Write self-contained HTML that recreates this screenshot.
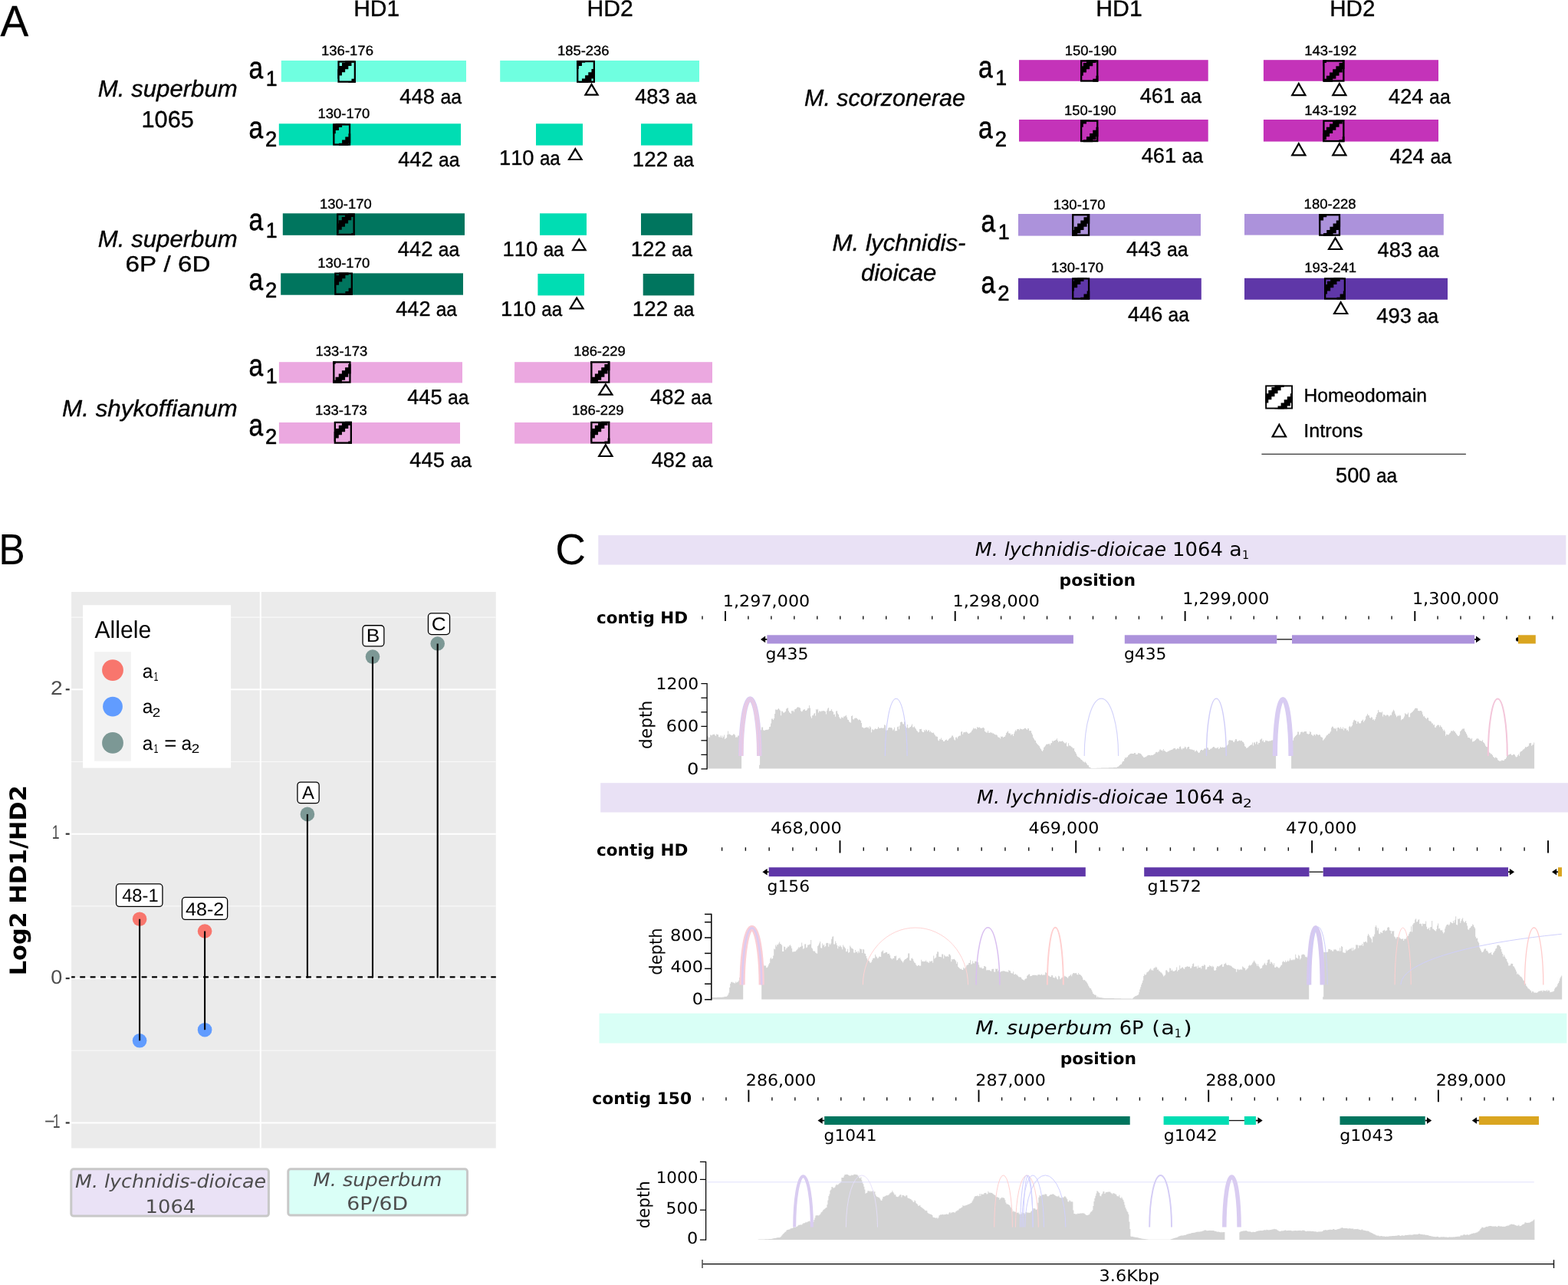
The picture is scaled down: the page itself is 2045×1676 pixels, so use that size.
<!DOCTYPE html>
<html lang="en"><head><meta charset="utf-8"><title>HD allele figure</title>
<style>
html,body{margin:0;padding:0;background:#fff;}
body{width:2045px;height:1676px;overflow:hidden;}
svg{display:block;}
text{white-space:pre;font-kerning:none;text-rendering:geometricPrecision;}
#panelA text{stroke:#000;stroke-width:0.35px;stroke-linejoin:round;}
#panelA text.al{stroke-width:0.6px;}
</style></head>
<body>
<svg width="2045" height="1676" viewBox="0 0 2045 1676">
<defs><clipPath id="c0"><rect x="440.40" y="79.30" width="23.60" height="28.50"/></clipPath><clipPath id="c1"><rect x="752.10" y="78.90" width="23.90" height="29.00"/></clipPath><clipPath id="c2"><rect x="434.20" y="161.30" width="23.00" height="28.40"/></clipPath><clipPath id="c3"><rect x="439.10" y="278.40" width="23.70" height="28.60"/></clipPath><clipPath id="c4"><rect x="436.20" y="355.50" width="23.80" height="29.30"/></clipPath><clipPath id="c5"><rect x="434.20" y="471.20" width="23.40" height="28.50"/></clipPath><clipPath id="c6"><rect x="770.20" y="471.20" width="25.20" height="28.50"/></clipPath><clipPath id="c7"><rect x="435.70" y="549.80" width="23.30" height="29.00"/></clipPath><clipPath id="c8"><rect x="770.20" y="549.80" width="25.20" height="28.80"/></clipPath><clipPath id="c9"><rect x="1409.00" y="78.30" width="23.40" height="28.40"/></clipPath><clipPath id="c10"><rect x="1725.30" y="78.30" width="28.20" height="28.40"/></clipPath><clipPath id="c11"><rect x="1409.00" y="156.50" width="23.40" height="28.70"/></clipPath><clipPath id="c12"><rect x="1725.30" y="156.50" width="28.20" height="28.70"/></clipPath><clipPath id="c13"><rect x="1398.10" y="279.10" width="23.10" height="28.70"/></clipPath><clipPath id="c14"><rect x="1720.10" y="279.10" width="28.00" height="28.70"/></clipPath><clipPath id="c15"><rect x="1398.10" y="362.30" width="23.10" height="28.40"/></clipPath><clipPath id="c16"><rect x="1727.00" y="362.30" width="28.00" height="28.40"/></clipPath><clipPath id="c17"><rect x="1650.20" y="502.40" width="35.80" height="31.10"/></clipPath><clipPath id="clp2"><rect x="1800" y="1190" width="236.8" height="110"/></clipPath></defs>
<g id="panelA">
<text transform="translate(0.39,46.50) scale(0.9708,1.0000)" font-family='"Liberation Sans", sans-serif' font-size="56.70" fill="#000" >A</text>
<text transform="translate(461.13,21.00) scale(1.0155,1.0000)" font-family='"Liberation Sans", sans-serif' font-size="29.60" fill="#000" >HD1</text>
<text transform="translate(765.52,21.00) scale(1.0199,1.0000)" font-family='"Liberation Sans", sans-serif' font-size="29.60" fill="#000" >HD2</text>
<text transform="translate(1429.22,21.00) scale(1.0227,1.0000)" font-family='"Liberation Sans", sans-serif' font-size="29.60" fill="#000" >HD1</text>
<text transform="translate(1734.28,21.00) scale(0.9982,1.0000)" font-family='"Liberation Sans", sans-serif' font-size="29.60" fill="#000" >HD2</text>
<rect x="366.80" y="79.00" width="241.20" height="27.80" fill="#6FFFE0" />
<rect x="652.20" y="79.00" width="259.80" height="27.80" fill="#6FFFE0" />
<g clip-path="url(#c0)"><path d="M454.31 73.46h12.51v4.22h-12.51zM450.14 77.63h12.51v4.22h-12.51zM445.97 81.80h12.51v4.22h-12.51zM441.80 85.97h12.51v4.22h-12.51zM437.63 90.14h12.51v4.22h-12.51zM470.99 90.14h4.17v4.22h-4.17zM433.46 94.31h12.51v4.22h-12.51zM466.82 94.31h8.34v4.22h-8.34zM433.46 98.48h8.34v4.22h-8.34zM462.65 98.48h12.51v4.22h-12.51zM433.46 102.65h4.17v4.22h-4.17zM458.48 102.65h12.51v4.22h-12.51zM454.31 106.82h12.51v4.22h-12.51zM450.14 110.99h12.51v4.22h-12.51zM445.97 115.16h12.51v4.22h-12.51z" fill="#000"/></g><rect x="441.55" y="80.45" width="21.30" height="26.20" fill="none" stroke="#000" stroke-width="2.3"/>
<g clip-path="url(#c1)"><path d="M758.94 69.16h12.51v4.22h-12.51zM754.77 73.33h12.51v4.22h-12.51zM750.60 77.50h12.51v4.22h-12.51zM746.43 81.67h12.51v4.22h-12.51zM779.79 81.67h4.17v4.22h-4.17zM742.26 85.84h12.51v4.22h-12.51zM775.62 85.84h8.34v4.22h-8.34zM742.26 90.01h8.34v4.22h-8.34zM771.45 90.01h12.51v4.22h-12.51zM742.26 94.18h4.17v4.22h-4.17zM767.28 94.18h12.51v4.22h-12.51zM763.11 98.35h12.51v4.22h-12.51zM758.94 102.52h12.51v4.22h-12.51zM754.77 106.69h12.51v4.22h-12.51zM750.60 110.86h12.51v4.22h-12.51z" fill="#000"/></g><rect x="753.25" y="80.05" width="21.60" height="26.70" fill="none" stroke="#000" stroke-width="2.3"/>
<text transform="translate(418.99,72.00) scale(1.0414,1.0000)" font-family='"Liberation Sans", sans-serif' font-size="17.80" fill="#000" >136-176</text>
<text transform="translate(726.89,72.00) scale(1.0366,1.0000)" font-family='"Liberation Sans", sans-serif' font-size="17.80" fill="#000" >185-236</text>
<text font-family='"Liberation Sans", sans-serif' fill="#000" ><tspan x="521.37" y="134.70" font-size="27.30" textLength="45.57" lengthAdjust="spacingAndGlyphs">448</tspan> <tspan x="574.39" y="134.70" font-size="25.60" textLength="27.61" lengthAdjust="spacingAndGlyphs">aa</tspan></text>
<text font-family='"Liberation Sans", sans-serif' fill="#000" ><tspan x="828.17" y="134.70" font-size="27.30" textLength="45.47" lengthAdjust="spacingAndGlyphs">483</tspan> <tspan x="881.05" y="134.70" font-size="25.60" textLength="27.55" lengthAdjust="spacingAndGlyphs">aa</tspan></text>
<path d="M771.50 107.80L781.50 124.80L761.50 124.80ZM771.50 112.14L777.65 122.60L765.35 122.60Z" fill="#000" fill-rule="evenodd" stroke="none"/>
<text font-family='"Liberation Sans", sans-serif' fill="#000" class="al"><tspan x="324.38" y="101.50" font-size="40.00" textLength="18.62" lengthAdjust="spacingAndGlyphs">a</tspan><tspan x="346.67" y="111.70" font-size="28.00" textLength="14.83" lengthAdjust="spacingAndGlyphs">1</tspan></text>
<rect x="363.80" y="161.30" width="237.20" height="28.30" fill="#00DDB3" />
<rect x="699.00" y="161.30" width="61.00" height="28.30" fill="#00DDB3" />
<rect x="836.00" y="161.30" width="67.00" height="28.30" fill="#00DDB3" />
<g clip-path="url(#c2)"><path d="M441.94 153.36h12.51v4.22h-12.51zM437.77 157.53h12.51v4.22h-12.51zM433.60 161.70h12.51v4.22h-12.51zM429.43 165.87h12.51v4.22h-12.51zM462.79 165.87h4.17v4.22h-4.17zM425.26 170.04h12.51v4.22h-12.51zM458.62 170.04h8.34v4.22h-8.34zM425.26 174.21h8.34v4.22h-8.34zM454.45 174.21h12.51v4.22h-12.51zM425.26 178.38h4.17v4.22h-4.17zM450.28 178.38h12.51v4.22h-12.51zM446.11 182.55h12.51v4.22h-12.51zM441.94 186.72h12.51v4.22h-12.51zM437.77 190.89h12.51v4.22h-12.51zM433.60 195.06h12.51v4.22h-12.51z" fill="#000"/></g><rect x="435.35" y="162.45" width="20.70" height="26.10" fill="none" stroke="#000" stroke-width="2.3"/>
<text transform="translate(414.59,154.10) scale(1.0368,1.0000)" font-family='"Liberation Sans", sans-serif' font-size="17.80" fill="#000" >130-170</text>
<text font-family='"Liberation Sans", sans-serif' fill="#000" ><tspan x="519.17" y="216.50" font-size="27.30" textLength="45.65" lengthAdjust="spacingAndGlyphs">442</tspan> <tspan x="572.05" y="216.50" font-size="25.60" textLength="27.55" lengthAdjust="spacingAndGlyphs">aa</tspan></text>
<text font-family='"Liberation Sans", sans-serif' fill="#000" ><tspan x="650.92" y="214.50" font-size="27.30" textLength="45.66" lengthAdjust="spacingAndGlyphs">110</tspan> <tspan x="703.88" y="214.50" font-size="25.60" textLength="26.82" lengthAdjust="spacingAndGlyphs">aa</tspan></text>
<text font-family='"Liberation Sans", sans-serif' fill="#000" ><tspan x="824.89" y="216.50" font-size="27.30" textLength="46.17" lengthAdjust="spacingAndGlyphs">122</tspan> <tspan x="878.08" y="216.50" font-size="25.60" textLength="26.92" lengthAdjust="spacingAndGlyphs">aa</tspan></text>
<path d="M750.30 192.10L760.50 209.10L740.10 209.10ZM750.30 196.38L756.61 206.90L743.99 206.90Z" fill="#000" fill-rule="evenodd" stroke="none"/>
<text font-family='"Liberation Sans", sans-serif' fill="#000" class="al"><tspan x="324.38" y="180.30" font-size="40.00" textLength="18.62" lengthAdjust="spacingAndGlyphs">a</tspan><tspan x="346.12" y="190.50" font-size="28.00" textLength="15.26" lengthAdjust="spacingAndGlyphs">2</tspan></text>
<rect x="368.80" y="278.30" width="237.20" height="28.50" fill="#00755E" />
<rect x="704.00" y="278.30" width="61.00" height="28.50" fill="#00DDB3" />
<rect x="836.00" y="278.30" width="67.00" height="28.50" fill="#00755E" />
<g clip-path="url(#c3)"><path d="M433.26 270.56h4.17v4.22h-4.17zM458.28 270.56h12.51v4.22h-12.51zM454.11 274.73h12.51v4.22h-12.51zM449.94 278.90h12.51v4.22h-12.51zM445.77 283.07h12.51v4.22h-12.51zM441.60 287.24h12.51v4.22h-12.51zM437.43 291.41h12.51v4.22h-12.51zM470.79 291.41h4.17v4.22h-4.17zM433.26 295.58h12.51v4.22h-12.51zM466.62 295.58h8.34v4.22h-8.34zM433.26 299.75h8.34v4.22h-8.34zM462.45 299.75h12.51v4.22h-12.51zM433.26 303.92h4.17v4.22h-4.17zM458.28 303.92h12.51v4.22h-12.51zM454.11 308.09h12.51v4.22h-12.51zM449.94 312.26h12.51v4.22h-12.51z" fill="#000"/></g><rect x="440.25" y="279.55" width="21.40" height="26.30" fill="none" stroke="#000" stroke-width="2.3"/>
<text transform="translate(416.99,272.10) scale(1.0368,1.0000)" font-family='"Liberation Sans", sans-serif' font-size="17.80" fill="#000" >130-170</text>
<text font-family='"Liberation Sans", sans-serif' fill="#000" ><tspan x="518.87" y="334.10" font-size="27.30" textLength="45.65" lengthAdjust="spacingAndGlyphs">442</tspan> <tspan x="571.75" y="334.10" font-size="25.60" textLength="27.55" lengthAdjust="spacingAndGlyphs">aa</tspan></text>
<text font-family='"Liberation Sans", sans-serif' fill="#000" ><tspan x="655.40" y="334.10" font-size="27.30" textLength="45.89" lengthAdjust="spacingAndGlyphs">110</tspan> <tspan x="708.64" y="334.10" font-size="25.60" textLength="26.96" lengthAdjust="spacingAndGlyphs">aa</tspan></text>
<text font-family='"Liberation Sans", sans-serif' fill="#000" ><tspan x="822.69" y="334.10" font-size="27.30" textLength="46.28" lengthAdjust="spacingAndGlyphs">122</tspan> <tspan x="876.01" y="334.10" font-size="25.60" textLength="26.99" lengthAdjust="spacingAndGlyphs">aa</tspan></text>
<path d="M755.30 310.00L765.50 327.30L745.10 327.30ZM755.30 314.33L761.65 325.10L748.95 325.10Z" fill="#000" fill-rule="evenodd" stroke="none"/>
<text font-family='"Liberation Sans", sans-serif' fill="#000" class="al"><tspan x="324.38" y="299.60" font-size="40.00" textLength="18.62" lengthAdjust="spacingAndGlyphs">a</tspan><tspan x="346.67" y="309.80" font-size="28.00" textLength="14.83" lengthAdjust="spacingAndGlyphs">1</tspan></text>
<rect x="366.20" y="356.40" width="237.80" height="28.30" fill="#00755E" />
<rect x="701.40" y="357.00" width="60.60" height="28.40" fill="#00DDB3" />
<rect x="838.70" y="357.00" width="66.60" height="28.40" fill="#00755E" />
<g clip-path="url(#c4)"><path d="M450.41 346.56h12.51v4.22h-12.51zM446.24 350.73h12.51v4.22h-12.51zM442.07 354.90h12.51v4.22h-12.51zM437.90 359.07h12.51v4.22h-12.51zM433.73 363.24h12.51v4.22h-12.51zM467.09 363.24h4.17v4.22h-4.17zM429.56 367.41h12.51v4.22h-12.51zM462.92 367.41h8.34v4.22h-8.34zM429.56 371.58h8.34v4.22h-8.34zM458.75 371.58h12.51v4.22h-12.51zM429.56 375.75h4.17v4.22h-4.17zM454.58 375.75h12.51v4.22h-12.51zM450.41 379.92h12.51v4.22h-12.51zM446.24 384.09h12.51v4.22h-12.51zM442.07 388.26h12.51v4.22h-12.51zM437.90 392.43h12.51v4.22h-12.51z" fill="#000"/></g><rect x="437.35" y="356.65" width="21.50" height="27.00" fill="none" stroke="#000" stroke-width="2.3"/>
<text transform="translate(414.29,348.60) scale(1.0415,1.0000)" font-family='"Liberation Sans", sans-serif' font-size="17.80" fill="#000" >130-170</text>
<text font-family='"Liberation Sans", sans-serif' fill="#000" ><tspan x="516.18" y="412.30" font-size="27.30" textLength="45.31" lengthAdjust="spacingAndGlyphs">442</tspan> <tspan x="568.66" y="412.30" font-size="25.60" textLength="27.34" lengthAdjust="spacingAndGlyphs">aa</tspan></text>
<text font-family='"Liberation Sans", sans-serif' fill="#000" ><tspan x="653.10" y="412.30" font-size="27.30" textLength="45.89" lengthAdjust="spacingAndGlyphs">110</tspan> <tspan x="706.34" y="412.30" font-size="25.60" textLength="26.96" lengthAdjust="spacingAndGlyphs">aa</tspan></text>
<text font-family='"Liberation Sans", sans-serif' fill="#000" ><tspan x="824.88" y="412.30" font-size="27.30" textLength="46.34" lengthAdjust="spacingAndGlyphs">122</tspan> <tspan x="878.27" y="412.30" font-size="25.60" textLength="27.03" lengthAdjust="spacingAndGlyphs">aa</tspan></text>
<path d="M752.15 386.40L762.50 403.40L741.80 403.40ZM752.15 390.63L758.58 401.20L745.72 401.20Z" fill="#000" fill-rule="evenodd" stroke="none"/>
<text font-family='"Liberation Sans", sans-serif' fill="#000" class="al"><tspan x="324.38" y="377.70" font-size="40.00" textLength="18.62" lengthAdjust="spacingAndGlyphs">a</tspan><tspan x="346.12" y="387.90" font-size="28.00" textLength="15.26" lengthAdjust="spacingAndGlyphs">2</tspan></text>
<rect x="363.90" y="472.20" width="239.10" height="27.20" fill="#EBA8E0" />
<rect x="671.10" y="472.20" width="257.90" height="27.20" fill="#EBA8E0" />
<g clip-path="url(#c5)"><path d="M433.40 462.46h12.51v4.22h-12.51zM429.23 466.63h12.51v4.22h-12.51zM462.59 466.63h4.17v4.22h-4.17zM425.06 470.80h12.51v4.22h-12.51zM458.42 470.80h8.34v4.22h-8.34zM425.06 474.97h8.34v4.22h-8.34zM454.25 474.97h12.51v4.22h-12.51zM425.06 479.14h4.17v4.22h-4.17zM450.08 479.14h12.51v4.22h-12.51zM445.91 483.31h12.51v4.22h-12.51zM441.74 487.48h12.51v4.22h-12.51zM437.57 491.65h12.51v4.22h-12.51zM433.40 495.82h12.51v4.22h-12.51zM429.23 499.99h12.51v4.22h-12.51zM462.59 499.99h4.17v4.22h-4.17zM425.06 504.16h12.51v4.22h-12.51zM458.42 504.16h8.34v4.22h-8.34z" fill="#000"/></g><rect x="435.35" y="472.35" width="21.10" height="26.20" fill="none" stroke="#000" stroke-width="2.3"/>
<g clip-path="url(#c6)"><path d="M767.53 462.46h12.51v4.22h-12.51zM800.89 462.46h8.34v4.22h-8.34zM763.36 466.63h12.51v4.22h-12.51zM796.72 466.63h12.51v4.22h-12.51zM763.36 470.80h8.34v4.22h-8.34zM792.55 470.80h12.51v4.22h-12.51zM763.36 474.97h4.17v4.22h-4.17zM788.38 474.97h12.51v4.22h-12.51zM784.21 479.14h12.51v4.22h-12.51zM780.04 483.31h12.51v4.22h-12.51zM775.87 487.48h12.51v4.22h-12.51zM771.70 491.65h12.51v4.22h-12.51zM805.06 491.65h4.17v4.22h-4.17zM767.53 495.82h12.51v4.22h-12.51zM800.89 495.82h8.34v4.22h-8.34zM763.36 499.99h12.51v4.22h-12.51zM796.72 499.99h12.51v4.22h-12.51zM763.36 504.16h8.34v4.22h-8.34zM792.55 504.16h12.51v4.22h-12.51z" fill="#000"/></g><rect x="771.35" y="472.35" width="22.90" height="26.20" fill="none" stroke="#000" stroke-width="2.3"/>
<text transform="translate(411.59,464.00) scale(1.0382,1.0000)" font-family='"Liberation Sans", sans-serif' font-size="17.80" fill="#000" >133-173</text>
<text transform="translate(748.20,464.00) scale(1.0329,1.0000)" font-family='"Liberation Sans", sans-serif' font-size="17.80" fill="#000" >186-229</text>
<text font-family='"Liberation Sans", sans-serif' fill="#000" ><tspan x="531.18" y="526.70" font-size="27.30" textLength="45.42" lengthAdjust="spacingAndGlyphs">445</tspan> <tspan x="584.05" y="526.70" font-size="25.60" textLength="27.55" lengthAdjust="spacingAndGlyphs">aa</tspan></text>
<text font-family='"Liberation Sans", sans-serif' fill="#000" ><tspan x="848.07" y="526.70" font-size="27.30" textLength="45.65" lengthAdjust="spacingAndGlyphs">482</tspan> <tspan x="900.95" y="526.70" font-size="25.60" textLength="27.55" lengthAdjust="spacingAndGlyphs">aa</tspan></text>
<path d="M789.85 499.30L800.40 515.80L779.30 515.80ZM789.85 503.38L796.38 513.60L783.32 513.60Z" fill="#000" fill-rule="evenodd" stroke="none"/>
<text font-family='"Liberation Sans", sans-serif' fill="#000" class="al"><tspan x="324.38" y="489.50" font-size="40.00" textLength="18.62" lengthAdjust="spacingAndGlyphs">a</tspan><tspan x="346.67" y="499.70" font-size="28.00" textLength="14.83" lengthAdjust="spacingAndGlyphs">1</tspan></text>
<rect x="363.90" y="551.00" width="236.10" height="27.60" fill="#EBA8E0" />
<rect x="671.10" y="551.00" width="257.90" height="27.60" fill="#EBA8E0" />
<g clip-path="url(#c7)"><path d="M429.26 542.26h4.17v4.22h-4.17zM454.28 542.26h12.51v4.22h-12.51zM450.11 546.43h12.51v4.22h-12.51zM445.94 550.60h12.51v4.22h-12.51zM441.77 554.77h12.51v4.22h-12.51zM437.60 558.94h12.51v4.22h-12.51zM433.43 563.11h12.51v4.22h-12.51zM466.79 563.11h4.17v4.22h-4.17zM429.26 567.28h12.51v4.22h-12.51zM462.62 567.28h8.34v4.22h-8.34zM429.26 571.45h8.34v4.22h-8.34zM458.45 571.45h12.51v4.22h-12.51zM429.26 575.62h4.17v4.22h-4.17zM454.28 575.62h12.51v4.22h-12.51zM450.11 579.79h12.51v4.22h-12.51zM445.94 583.96h12.51v4.22h-12.51z" fill="#000"/></g><rect x="436.85" y="550.95" width="21.00" height="26.70" fill="none" stroke="#000" stroke-width="2.3"/>
<g clip-path="url(#c8)"><path d="M763.36 542.26h4.17v4.22h-4.17zM788.38 542.26h12.51v4.22h-12.51zM784.21 546.43h12.51v4.22h-12.51zM780.04 550.60h12.51v4.22h-12.51zM775.87 554.77h12.51v4.22h-12.51zM771.70 558.94h12.51v4.22h-12.51zM805.06 558.94h4.17v4.22h-4.17zM767.53 563.11h12.51v4.22h-12.51zM800.89 563.11h8.34v4.22h-8.34zM763.36 567.28h12.51v4.22h-12.51zM796.72 567.28h12.51v4.22h-12.51zM763.36 571.45h8.34v4.22h-8.34zM792.55 571.45h12.51v4.22h-12.51zM763.36 575.62h4.17v4.22h-4.17zM788.38 575.62h12.51v4.22h-12.51zM784.21 579.79h12.51v4.22h-12.51zM780.04 583.96h12.51v4.22h-12.51z" fill="#000"/></g><rect x="771.35" y="550.95" width="22.90" height="26.50" fill="none" stroke="#000" stroke-width="2.3"/>
<text transform="translate(410.99,540.80) scale(1.0382,1.0000)" font-family='"Liberation Sans", sans-serif' font-size="17.80" fill="#000" >133-173</text>
<text transform="translate(745.89,540.80) scale(1.0376,1.0000)" font-family='"Liberation Sans", sans-serif' font-size="17.80" fill="#000" >186-229</text>
<text font-family='"Liberation Sans", sans-serif' fill="#000" ><tspan x="534.37" y="608.50" font-size="27.30" textLength="45.53" lengthAdjust="spacingAndGlyphs">445</tspan> <tspan x="587.39" y="608.50" font-size="25.60" textLength="27.61" lengthAdjust="spacingAndGlyphs">aa</tspan></text>
<text font-family='"Liberation Sans", sans-serif' fill="#000" ><tspan x="849.78" y="608.50" font-size="27.30" textLength="45.25" lengthAdjust="spacingAndGlyphs">482</tspan> <tspan x="902.20" y="608.50" font-size="25.60" textLength="27.30" lengthAdjust="spacingAndGlyphs">aa</tspan></text>
<path d="M789.85 578.10L800.40 596.10L779.30 596.10ZM789.85 582.45L796.56 593.90L783.14 593.90Z" fill="#000" fill-rule="evenodd" stroke="none"/>
<text font-family='"Liberation Sans", sans-serif' fill="#000" class="al"><tspan x="324.38" y="568.30" font-size="40.00" textLength="18.62" lengthAdjust="spacingAndGlyphs">a</tspan><tspan x="346.12" y="578.50" font-size="28.00" textLength="15.26" lengthAdjust="spacingAndGlyphs">2</tspan></text>
<rect x="1329.00" y="78.20" width="246.70" height="27.60" fill="#C433B9" />
<rect x="1647.90" y="78.20" width="228.10" height="27.60" fill="#C433B9" />
<g clip-path="url(#c9)"><path d="M1400.26 69.46h4.17v4.22h-4.17zM1425.28 69.46h12.51v4.22h-12.51zM1421.11 73.63h12.51v4.22h-12.51zM1416.94 77.80h12.51v4.22h-12.51zM1412.77 81.97h12.51v4.22h-12.51zM1408.60 86.14h12.51v4.22h-12.51zM1404.43 90.31h12.51v4.22h-12.51zM1437.79 90.31h4.17v4.22h-4.17zM1400.26 94.48h12.51v4.22h-12.51zM1433.62 94.48h8.34v4.22h-8.34zM1400.26 98.65h8.34v4.22h-8.34zM1429.45 98.65h12.51v4.22h-12.51zM1400.26 102.82h4.17v4.22h-4.17zM1425.28 102.82h12.51v4.22h-12.51zM1421.11 106.99h12.51v4.22h-12.51zM1416.94 111.16h12.51v4.22h-12.51z" fill="#000"/></g><rect x="1410.15" y="79.45" width="21.10" height="26.10" fill="none" stroke="#000" stroke-width="2.3"/>
<g clip-path="url(#c10)"><path d="M1725.70 69.46h12.51v4.22h-12.51zM1759.06 69.46h4.17v4.22h-4.17zM1721.53 73.63h12.51v4.22h-12.51zM1754.89 73.63h8.34v4.22h-8.34zM1717.36 77.80h12.51v4.22h-12.51zM1750.72 77.80h12.51v4.22h-12.51zM1717.36 81.97h8.34v4.22h-8.34zM1746.55 81.97h12.51v4.22h-12.51zM1717.36 86.14h4.17v4.22h-4.17zM1742.38 86.14h12.51v4.22h-12.51zM1738.21 90.31h12.51v4.22h-12.51zM1734.04 94.48h12.51v4.22h-12.51zM1729.87 98.65h12.51v4.22h-12.51zM1725.70 102.82h12.51v4.22h-12.51zM1759.06 102.82h4.17v4.22h-4.17zM1721.53 106.99h12.51v4.22h-12.51zM1754.89 106.99h8.34v4.22h-8.34zM1717.36 111.16h12.51v4.22h-12.51zM1750.72 111.16h12.51v4.22h-12.51z" fill="#000"/></g><rect x="1726.45" y="79.45" width="25.90" height="26.10" fill="none" stroke="#000" stroke-width="2.3"/>
<text transform="translate(1388.80,71.70) scale(1.0352,1.0000)" font-family='"Liberation Sans", sans-serif' font-size="17.80" fill="#000" >150-190</text>
<text transform="translate(1701.29,72.20) scale(1.0401,1.0000)" font-family='"Liberation Sans", sans-serif' font-size="17.80" fill="#000" >143-192</text>
<text font-family='"Liberation Sans", sans-serif' fill="#000" ><tspan x="1486.67" y="134.00" font-size="27.30" textLength="45.56" lengthAdjust="spacingAndGlyphs">461</tspan> <tspan x="1539.49" y="134.00" font-size="25.60" textLength="27.51" lengthAdjust="spacingAndGlyphs">aa</tspan></text>
<text font-family='"Liberation Sans", sans-serif' fill="#000" ><tspan x="1811.08" y="134.60" font-size="27.30" textLength="45.17" lengthAdjust="spacingAndGlyphs">424</tspan> <tspan x="1864.09" y="134.60" font-size="25.60" textLength="27.61" lengthAdjust="spacingAndGlyphs">aa</tspan></text>
<path d="M1693.80 106.70L1704.30 125.30L1683.30 125.30ZM1693.80 111.18L1700.53 123.10L1687.07 123.10Z" fill="#000" fill-rule="evenodd" stroke="none"/>
<path d="M1746.85 106.70L1757.30 125.30L1736.40 125.30ZM1746.85 111.19L1753.54 123.10L1740.16 123.10Z" fill="#000" fill-rule="evenodd" stroke="none"/>
<text font-family='"Liberation Sans", sans-serif' fill="#000" class="al"><tspan x="1275.98" y="100.50" font-size="40.00" textLength="18.62" lengthAdjust="spacingAndGlyphs">a</tspan><tspan x="1298.27" y="110.70" font-size="28.00" textLength="14.83" lengthAdjust="spacingAndGlyphs">1</tspan></text>
<rect x="1329.00" y="156.00" width="246.70" height="28.60" fill="#C433B9" />
<rect x="1647.90" y="156.00" width="228.10" height="28.60" fill="#C433B9" />
<g clip-path="url(#c11)"><path d="M1412.77 148.96h12.51v4.22h-12.51zM1408.60 153.13h12.51v4.22h-12.51zM1404.43 157.30h12.51v4.22h-12.51zM1437.79 157.30h4.17v4.22h-4.17zM1400.26 161.47h12.51v4.22h-12.51zM1433.62 161.47h8.34v4.22h-8.34zM1400.26 165.64h8.34v4.22h-8.34zM1429.45 165.64h12.51v4.22h-12.51zM1400.26 169.81h4.17v4.22h-4.17zM1425.28 169.81h12.51v4.22h-12.51zM1421.11 173.98h12.51v4.22h-12.51zM1416.94 178.15h12.51v4.22h-12.51zM1412.77 182.32h12.51v4.22h-12.51zM1408.60 186.49h12.51v4.22h-12.51zM1404.43 190.66h12.51v4.22h-12.51zM1437.79 190.66h4.17v4.22h-4.17z" fill="#000"/></g><rect x="1410.15" y="157.65" width="21.10" height="26.40" fill="none" stroke="#000" stroke-width="2.3"/>
<g clip-path="url(#c12)"><path d="M1717.36 148.96h8.34v4.22h-8.34zM1746.55 148.96h12.51v4.22h-12.51zM1717.36 153.13h4.17v4.22h-4.17zM1742.38 153.13h12.51v4.22h-12.51zM1738.21 157.30h12.51v4.22h-12.51zM1734.04 161.47h12.51v4.22h-12.51zM1729.87 165.64h12.51v4.22h-12.51zM1725.70 169.81h12.51v4.22h-12.51zM1759.06 169.81h4.17v4.22h-4.17zM1721.53 173.98h12.51v4.22h-12.51zM1754.89 173.98h8.34v4.22h-8.34zM1717.36 178.15h12.51v4.22h-12.51zM1750.72 178.15h12.51v4.22h-12.51zM1717.36 182.32h8.34v4.22h-8.34zM1746.55 182.32h12.51v4.22h-12.51zM1717.36 186.49h4.17v4.22h-4.17zM1742.38 186.49h12.51v4.22h-12.51zM1738.21 190.66h12.51v4.22h-12.51z" fill="#000"/></g><rect x="1726.45" y="157.65" width="25.90" height="26.40" fill="none" stroke="#000" stroke-width="2.3"/>
<text transform="translate(1388.10,150.10) scale(1.0352,1.0000)" font-family='"Liberation Sans", sans-serif' font-size="17.80" fill="#000" >150-190</text>
<text transform="translate(1701.29,150.40) scale(1.0401,1.0000)" font-family='"Liberation Sans", sans-serif' font-size="17.80" fill="#000" >143-192</text>
<text font-family='"Liberation Sans", sans-serif' fill="#000" ><tspan x="1488.67" y="211.80" font-size="27.30" textLength="45.56" lengthAdjust="spacingAndGlyphs">461</tspan> <tspan x="1541.49" y="211.80" font-size="25.60" textLength="27.51" lengthAdjust="spacingAndGlyphs">aa</tspan></text>
<text font-family='"Liberation Sans", sans-serif' fill="#000" ><tspan x="1812.38" y="212.60" font-size="27.30" textLength="45.17" lengthAdjust="spacingAndGlyphs">424</tspan> <tspan x="1865.39" y="212.60" font-size="25.60" textLength="27.61" lengthAdjust="spacingAndGlyphs">aa</tspan></text>
<path d="M1693.80 184.90L1704.30 203.50L1683.30 203.50ZM1693.80 189.38L1700.53 201.30L1687.07 201.30Z" fill="#000" fill-rule="evenodd" stroke="none"/>
<path d="M1746.85 184.90L1757.30 203.50L1736.40 203.50ZM1746.85 189.39L1753.54 201.30L1740.16 201.30Z" fill="#000" fill-rule="evenodd" stroke="none"/>
<text font-family='"Liberation Sans", sans-serif' fill="#000" class="al"><tspan x="1275.98" y="180.30" font-size="40.00" textLength="18.62" lengthAdjust="spacingAndGlyphs">a</tspan><tspan x="1297.72" y="190.50" font-size="28.00" textLength="15.26" lengthAdjust="spacingAndGlyphs">2</tspan></text>
<rect x="1328.00" y="279.00" width="238.00" height="28.60" fill="#AC92DB" />
<rect x="1623.00" y="279.00" width="259.80" height="27.60" fill="#AC92DB" />
<g clip-path="url(#c13)"><path d="M1392.63 270.76h12.51v4.22h-12.51zM1425.99 270.76h4.17v4.22h-4.17zM1388.46 274.93h12.51v4.22h-12.51zM1421.82 274.93h8.34v4.22h-8.34zM1388.46 279.10h8.34v4.22h-8.34zM1417.65 279.10h12.51v4.22h-12.51zM1388.46 283.27h4.17v4.22h-4.17zM1413.48 283.27h12.51v4.22h-12.51zM1409.31 287.44h12.51v4.22h-12.51zM1405.14 291.61h12.51v4.22h-12.51zM1400.97 295.78h12.51v4.22h-12.51zM1396.80 299.95h12.51v4.22h-12.51zM1392.63 304.12h12.51v4.22h-12.51zM1425.99 304.12h4.17v4.22h-4.17zM1388.46 308.29h12.51v4.22h-12.51zM1421.82 308.29h8.34v4.22h-8.34zM1388.46 312.46h8.34v4.22h-8.34zM1417.65 312.46h12.51v4.22h-12.51z" fill="#000"/></g><rect x="1399.25" y="280.25" width="20.80" height="26.40" fill="none" stroke="#000" stroke-width="2.3"/>
<g clip-path="url(#c14)"><path d="M1726.07 270.76h12.51v4.22h-12.51zM1721.90 274.93h12.51v4.22h-12.51zM1755.26 274.93h4.17v4.22h-4.17zM1717.73 279.10h12.51v4.22h-12.51zM1751.09 279.10h8.34v4.22h-8.34zM1713.56 283.27h12.51v4.22h-12.51zM1746.92 283.27h12.51v4.22h-12.51zM1713.56 287.44h8.34v4.22h-8.34zM1742.75 287.44h12.51v4.22h-12.51zM1713.56 291.61h4.17v4.22h-4.17zM1738.58 291.61h12.51v4.22h-12.51zM1734.41 295.78h12.51v4.22h-12.51zM1730.24 299.95h12.51v4.22h-12.51zM1726.07 304.12h12.51v4.22h-12.51zM1721.90 308.29h12.51v4.22h-12.51zM1755.26 308.29h4.17v4.22h-4.17zM1717.73 312.46h12.51v4.22h-12.51zM1751.09 312.46h8.34v4.22h-8.34z" fill="#000"/></g><rect x="1721.25" y="280.25" width="25.70" height="26.40" fill="none" stroke="#000" stroke-width="2.3"/>
<text transform="translate(1373.79,272.90) scale(1.0399,1.0000)" font-family='"Liberation Sans", sans-serif' font-size="17.80" fill="#000" >130-170</text>
<text transform="translate(1700.59,271.90) scale(1.0412,1.0000)" font-family='"Liberation Sans", sans-serif' font-size="17.80" fill="#000" >180-228</text>
<text font-family='"Liberation Sans", sans-serif' fill="#000" ><tspan x="1468.97" y="334.20" font-size="27.30" textLength="45.53" lengthAdjust="spacingAndGlyphs">443</tspan> <tspan x="1521.92" y="334.20" font-size="25.60" textLength="27.58" lengthAdjust="spacingAndGlyphs">aa</tspan></text>
<text font-family='"Liberation Sans", sans-serif' fill="#000" ><tspan x="1796.58" y="334.60" font-size="27.30" textLength="45.30" lengthAdjust="spacingAndGlyphs">483</tspan> <tspan x="1849.26" y="334.60" font-size="25.60" textLength="27.44" lengthAdjust="spacingAndGlyphs">aa</tspan></text>
<path d="M1741.55 308.30L1752.00 326.10L1731.10 326.10ZM1741.55 312.65L1748.16 323.90L1734.94 323.90Z" fill="#000" fill-rule="evenodd" stroke="none"/>
<text font-family='"Liberation Sans", sans-serif' fill="#000" class="al"><tspan x="1279.58" y="301.70" font-size="40.00" textLength="18.62" lengthAdjust="spacingAndGlyphs">a</tspan><tspan x="1301.87" y="311.90" font-size="28.00" textLength="14.83" lengthAdjust="spacingAndGlyphs">1</tspan></text>
<rect x="1328.00" y="362.80" width="238.80" height="28.00" fill="#5F37A8" />
<rect x="1623.00" y="362.80" width="265.00" height="28.00" fill="#5F37A8" />
<g clip-path="url(#c15)"><path d="M1409.31 354.36h12.51v4.22h-12.51zM1405.14 358.53h12.51v4.22h-12.51zM1400.97 362.70h12.51v4.22h-12.51zM1396.80 366.87h12.51v4.22h-12.51zM1392.63 371.04h12.51v4.22h-12.51zM1425.99 371.04h4.17v4.22h-4.17zM1388.46 375.21h12.51v4.22h-12.51zM1421.82 375.21h8.34v4.22h-8.34zM1388.46 379.38h8.34v4.22h-8.34zM1417.65 379.38h12.51v4.22h-12.51zM1388.46 383.55h4.17v4.22h-4.17zM1413.48 383.55h12.51v4.22h-12.51zM1409.31 387.72h12.51v4.22h-12.51zM1405.14 391.89h12.51v4.22h-12.51zM1400.97 396.06h12.51v4.22h-12.51z" fill="#000"/></g><rect x="1399.25" y="363.45" width="20.80" height="26.10" fill="none" stroke="#000" stroke-width="2.3"/>
<g clip-path="url(#c16)"><path d="M1718.46 354.36h4.17v4.22h-4.17zM1743.48 354.36h12.51v4.22h-12.51zM1739.31 358.53h12.51v4.22h-12.51zM1735.14 362.70h12.51v4.22h-12.51zM1730.97 366.87h12.51v4.22h-12.51zM1726.80 371.04h12.51v4.22h-12.51zM1760.16 371.04h4.17v4.22h-4.17zM1722.63 375.21h12.51v4.22h-12.51zM1755.99 375.21h8.34v4.22h-8.34zM1718.46 379.38h12.51v4.22h-12.51zM1751.82 379.38h12.51v4.22h-12.51zM1718.46 383.55h8.34v4.22h-8.34zM1747.65 383.55h12.51v4.22h-12.51zM1718.46 387.72h4.17v4.22h-4.17zM1743.48 387.72h12.51v4.22h-12.51zM1739.31 391.89h12.51v4.22h-12.51zM1735.14 396.06h12.51v4.22h-12.51z" fill="#000"/></g><rect x="1728.15" y="363.45" width="25.70" height="26.10" fill="none" stroke="#000" stroke-width="2.3"/>
<text transform="translate(1371.09,355.30) scale(1.0415,1.0000)" font-family='"Liberation Sans", sans-serif' font-size="17.80" fill="#000" >130-170</text>
<text transform="translate(1701.29,355.10) scale(1.0396,1.0000)" font-family='"Liberation Sans", sans-serif' font-size="17.80" fill="#000" >193-241</text>
<text font-family='"Liberation Sans", sans-serif' fill="#000" ><tspan x="1470.98" y="419.00" font-size="27.30" textLength="45.25" lengthAdjust="spacingAndGlyphs">446</tspan> <tspan x="1523.59" y="419.00" font-size="25.60" textLength="27.41" lengthAdjust="spacingAndGlyphs">aa</tspan></text>
<text font-family='"Liberation Sans", sans-serif' fill="#000" ><tspan x="1795.37" y="421.30" font-size="27.30" textLength="45.59" lengthAdjust="spacingAndGlyphs">493</tspan> <tspan x="1848.39" y="421.30" font-size="25.60" textLength="27.61" lengthAdjust="spacingAndGlyphs">aa</tspan></text>
<path d="M1748.65 392.10L1759.10 410.10L1738.20 410.10ZM1748.65 396.48L1755.28 407.90L1742.02 407.90Z" fill="#000" fill-rule="evenodd" stroke="none"/>
<text font-family='"Liberation Sans", sans-serif' fill="#000" class="al"><tspan x="1279.58" y="381.50" font-size="40.00" textLength="18.62" lengthAdjust="spacingAndGlyphs">a</tspan><tspan x="1301.32" y="391.70" font-size="28.00" textLength="15.26" lengthAdjust="spacingAndGlyphs">2</tspan></text>
<text transform="translate(127.84,126.30) scale(1.0220,1.0000)" font-family='"Liberation Sans", sans-serif' font-size="30.50" font-style="italic" fill="#000" >M. superbum</text>
<text transform="translate(184.46,166.10) scale(1.0119,1.0000)" font-family='"Liberation Sans", sans-serif' font-size="30.40" fill="#000" >1065</text>
<text transform="translate(127.84,322.10) scale(1.0220,1.0000)" font-family='"Liberation Sans", sans-serif' font-size="30.50" font-style="italic" fill="#000" >M. superbum</text>
<text transform="translate(163.61,353.50) scale(1.1614,1.0000)" font-family='"Liberation Sans", sans-serif' font-size="28.60" fill="#000" >6P / 6D</text>
<text transform="translate(81.03,542.80) scale(1.0301,1.0000)" font-family='"Liberation Sans", sans-serif' font-size="30.50" font-style="italic" fill="#000" >M. shykoffianum</text>
<text transform="translate(1049.06,138.00) scale(0.9984,1.0000)" font-family='"Liberation Sans", sans-serif' font-size="30.50" font-style="italic" fill="#000" >M. scorzonerae</text>
<text transform="translate(1085.54,327.00) scale(1.0265,1.0000)" font-family='"Liberation Sans", sans-serif' font-size="30.50" font-style="italic" fill="#000" >M. lychnidis-</text>
<text transform="translate(1122.95,366.20) scale(1.0181,1.0000)" font-family='"Liberation Sans", sans-serif' font-size="30.50" font-style="italic" fill="#000" >dioicae</text>
<g clip-path="url(#c17)"><rect x="1650.20" y="502.40" width="35.80" height="31.10" fill="#fff"/><path d="M1642.04 496.84h4.08v4.13h-4.08zM1666.52 496.84h12.24v4.13h-12.24zM1662.44 500.92h12.24v4.13h-12.24zM1658.36 505.00h12.24v4.13h-12.24zM1691.00 505.00h4.08v4.13h-4.08zM1654.28 509.08h12.24v4.13h-12.24zM1686.92 509.08h8.16v4.13h-8.16zM1650.20 513.16h12.24v4.13h-12.24zM1682.84 513.16h12.24v4.13h-12.24zM1646.12 517.24h12.24v4.13h-12.24zM1678.76 517.24h12.24v4.13h-12.24zM1642.04 521.32h12.24v4.13h-12.24zM1674.68 521.32h12.24v4.13h-12.24zM1642.04 525.40h8.16v4.13h-8.16zM1670.60 525.40h12.24v4.13h-12.24zM1642.04 529.48h4.08v4.13h-4.08zM1666.52 529.48h12.24v4.13h-12.24zM1662.44 533.56h12.24v4.13h-12.24zM1658.36 537.64h12.24v4.13h-12.24zM1691.00 537.64h4.08v4.13h-4.08zM1654.28 541.72h12.24v4.13h-12.24zM1686.92 541.72h8.16v4.13h-8.16z" fill="#000"/></g><rect x="1651.15" y="503.35" width="33.90" height="29.20" fill="none" stroke="#000" stroke-width="1.9"/>
<text transform="translate(1700.48,523.90) scale(1.0034,1.0000)" font-family='"Liberation Sans", sans-serif' font-size="24.60" fill="#000" >Homeodomain</text>
<path d="M1668.35 551.40L1678.90 570.60L1657.80 570.60ZM1668.35 555.97L1675.18 568.40L1661.52 568.40Z" fill="#000" fill-rule="evenodd" stroke="none"/>
<text transform="translate(1700.17,570.40) scale(1.0271,1.0000)" font-family='"Liberation Sans", sans-serif' font-size="24.60" fill="#000" >Introns</text>
<line x1="1645.40" y1="592.20" x2="1911.90" y2="592.20" stroke="#000" stroke-width="1.1" />
<text font-family='"Liberation Sans", sans-serif' fill="#000" ><tspan x="1742.11" y="628.80" font-size="27.30" textLength="45.36" lengthAdjust="spacingAndGlyphs">500</tspan> <tspan x="1794.93" y="628.80" font-size="25.60" textLength="27.27" lengthAdjust="spacingAndGlyphs">aa</tspan></text>
</g>
<g id="panelB">
<text transform="translate(-1.74,735.80) scale(0.9113,1.0000)" font-family='"Liberation Sans", sans-serif' font-size="56.70" fill="#000" >B</text>
<rect x="93.10" y="772.00" width="553.70" height="725.50" fill="#EBEBEB" />
<line x1="93.10" y1="805.10" x2="646.80" y2="805.10" stroke="#F9F9F9" stroke-width="1.1" />
<line x1="93.10" y1="993.50" x2="646.80" y2="993.50" stroke="#F9F9F9" stroke-width="1.1" />
<line x1="93.10" y1="1181.90" x2="646.80" y2="1181.90" stroke="#F9F9F9" stroke-width="1.1" />
<line x1="93.10" y1="1370.30" x2="646.80" y2="1370.30" stroke="#F9F9F9" stroke-width="1.1" />
<line x1="93.10" y1="899.30" x2="646.80" y2="899.30" stroke="#fff" stroke-width="1.9" />
<line x1="93.10" y1="1087.70" x2="646.80" y2="1087.70" stroke="#fff" stroke-width="1.9" />
<line x1="93.10" y1="1276.10" x2="646.80" y2="1276.10" stroke="#fff" stroke-width="1.9" />
<line x1="93.10" y1="1464.50" x2="646.80" y2="1464.50" stroke="#fff" stroke-width="1.9" />
<line x1="339.80" y1="772.00" x2="339.80" y2="1497.50" stroke="#fff" stroke-width="2.0" />
<line x1="85.70" y1="899.30" x2="90.70" y2="899.30" stroke="#333" stroke-width="2.2" />
<line x1="85.70" y1="1087.70" x2="90.70" y2="1087.70" stroke="#333" stroke-width="2.2" />
<line x1="85.70" y1="1276.10" x2="90.70" y2="1276.10" stroke="#333" stroke-width="2.2" />
<line x1="85.70" y1="1464.50" x2="90.70" y2="1464.50" stroke="#333" stroke-width="2.2" />
<text transform="translate(65.89,905.90) scale(1.1062,1.0000)" font-family='"Liberation Sans", sans-serif' font-size="25.40" fill="#4D4D4D" >2</text>
<text transform="translate(67.86,1094.30) scale(0.6940,1.0000)" font-family='"Liberation Sans", sans-serif' font-size="25.40" fill="#4D4D4D" >1</text>
<text transform="translate(66.35,1282.70) scale(1.0624,1.0000)" font-family='"Liberation Sans", sans-serif' font-size="25.40" fill="#4D4D4D" >0</text>
<text font-family='"Liberation Sans", sans-serif' fill="#4D4D4D" ><tspan x="58.04" y="1471.10" font-size="25.40" textLength="13.70" lengthAdjust="spacingAndGlyphs">−</tspan><tspan x="68.86" y="1471.10" font-size="25.40" textLength="9.80" lengthAdjust="spacingAndGlyphs">1</tspan></text>
<text transform="translate(34.00,1272.29) rotate(-90) scale(1.0285,1)" font-family='"DejaVu Sans", "Liberation Sans", sans-serif' font-size="29.50" font-weight="bold" fill="#000">Log2 HD1/HD2</text>
<line x1="93.10" y1="1274.40" x2="646.80" y2="1274.40" stroke="#000" stroke-width="2.3" stroke-dasharray="6.85 6.55" stroke-dashoffset="2.2"/>
<rect x="108.10" y="789.20" width="193.00" height="212.40" fill="#fff" />
<text transform="translate(123.54,831.50) scale(0.9553,1.0000)" font-family='"Liberation Sans", sans-serif' font-size="31.50" fill="#000" >Allele</text>
<rect x="123.10" y="850.20" width="47.70" height="142.50" fill="#F2F2F2" />
<circle cx="147" cy="874.1" r="13.9" fill="#F8766D"/>
<circle cx="147" cy="921.6" r="12.9" fill="#619CFF"/>
<circle cx="147" cy="968.9" r="13.9" fill="#7C9895"/>
<text font-family='"Liberation Sans", sans-serif' fill="#000" ><tspan x="185.76" y="883.60" font-size="25.00" textLength="13.64" lengthAdjust="spacingAndGlyphs">a</tspan><tspan x="200.39" y="887.80" font-size="16.50" textLength="5.93" lengthAdjust="spacingAndGlyphs">1</tspan></text>
<text font-family='"Liberation Sans", sans-serif' fill="#000" ><tspan x="185.76" y="930.40" font-size="25.00" textLength="13.64" lengthAdjust="spacingAndGlyphs">a</tspan><tspan x="198.85" y="934.60" font-size="16.50" textLength="10.50" lengthAdjust="spacingAndGlyphs">2</tspan></text>
<text font-family='"Liberation Sans", sans-serif' fill="#000" ><tspan x="185.76" y="977.70" font-size="25.00" textLength="13.64" lengthAdjust="spacingAndGlyphs">a</tspan><tspan x="200.39" y="981.90" font-size="16.50" textLength="5.93" lengthAdjust="spacingAndGlyphs">1</tspan> <tspan x="214.15" y="977.70" font-size="26.00" textLength="16.11" lengthAdjust="spacingAndGlyphs">=</tspan> <tspan x="236.56" y="977.70" font-size="25.00" textLength="13.64" lengthAdjust="spacingAndGlyphs">a</tspan><tspan x="249.65" y="981.90" font-size="16.50" textLength="10.50" lengthAdjust="spacingAndGlyphs">2</tspan></text>
<circle cx="182.1" cy="1198.7" r="9.3" fill="#F8766D"/><circle cx="182.1" cy="1357.3" r="9.3" fill="#619CFF"/>
<line x1="182.10" y1="1198.70" x2="182.10" y2="1357.30" stroke="#000" stroke-width="2.1" />
<circle cx="267.1" cy="1214.5" r="9.3" fill="#F8766D"/><circle cx="267.1" cy="1343.2" r="9.3" fill="#619CFF"/>
<line x1="267.10" y1="1214.50" x2="267.10" y2="1343.20" stroke="#000" stroke-width="2.1" />
<circle cx="400.9" cy="1061.9" r="9.3" fill="#7C9895"/>
<line x1="400.90" y1="1061.90" x2="400.90" y2="1275.50" stroke="#000" stroke-width="2.1" />
<circle cx="486" cy="856.6" r="9.3" fill="#7C9895"/>
<line x1="486.00" y1="856.60" x2="486.00" y2="1275.50" stroke="#000" stroke-width="2.1" />
<circle cx="570.7" cy="839.5" r="9.3" fill="#7C9895"/>
<line x1="570.70" y1="839.50" x2="570.70" y2="1275.50" stroke="#000" stroke-width="2.1" />
<rect x="151.55" y="1152.95" width="60.40" height="29.50" rx="4.2" fill="#fff" stroke="#000" stroke-width="1.3"/>
<text transform="translate(159.16,1175.90) scale(0.9931,1.0000)" font-family='"Liberation Sans", sans-serif' font-size="23.90" fill="#000" >48-1</text>
<rect x="237.45" y="1170.45" width="59.20" height="29.00" rx="4.2" fill="#fff" stroke="#000" stroke-width="1.3"/>
<text transform="translate(242.02,1193.80) scale(1.0502,1.0000)" font-family='"Liberation Sans", sans-serif' font-size="23.90" fill="#000" >48-2</text>
<rect x="387.95" y="1020.05" width="28.20" height="27.60" rx="4.2" fill="#fff" stroke="#000" stroke-width="1.3"/>
<text transform="translate(393.95,1042.00) scale(0.9970,1.0000)" font-family='"Liberation Sans", sans-serif' font-size="23.90" fill="#000" >A</text>
<rect x="473.05" y="815.75" width="27.80" height="27.20" rx="4.2" fill="#fff" stroke="#000" stroke-width="1.3"/>
<text transform="translate(477.64,837.40) scale(1.1006,1.0000)" font-family='"Liberation Sans", sans-serif' font-size="23.90" fill="#000" >B</text>
<rect x="558.45" y="799.95" width="28.10" height="27.60" rx="4.2" fill="#fff" stroke="#000" stroke-width="1.3"/>
<text transform="translate(562.87,822.10) scale(1.0967,1.0000)" font-family='"Liberation Sans", sans-serif' font-size="23.90" fill="#000" >C</text>
 <rect x="92.80" y="1524.80" width="257.60" height="61.30" rx="3.2" fill="#EAE2F6" stroke="#C8C8C8" stroke-width="3"/>
 <rect x="375.80" y="1524.80" width="233.70" height="60.30" rx="3.2" fill="#DAFFF7" stroke="#C8C8C8" stroke-width="3"/>
<text transform="translate(98.12,1549.20) scale(1.0546,1.0000)" font-family='"DejaVu Sans", "Liberation Sans", sans-serif' font-size="24.00" font-style="italic" fill="#4D4D4D" >M. lychnidis-dioicae</text>
<text transform="translate(189.56,1581.70) scale(1.0754,1.0000)" font-family='"DejaVu Sans", "Liberation Sans", sans-serif' font-size="24.00" fill="#4D4D4D" >1064</text>
<text transform="translate(408.61,1546.70) scale(1.0659,1.0000)" font-family='"DejaVu Sans", "Liberation Sans", sans-serif' font-size="24.00" font-style="italic" fill="#4D4D4D" >M. superbum</text>
<text transform="translate(452.23,1578.00) scale(1.1156,1.0000)" font-family='"DejaVu Sans", "Liberation Sans", sans-serif' font-size="24.00" fill="#4D4D4D" >6P/6D</text>
</g>
<g id="panelC">
<text transform="translate(724.30,735.60) scale(0.9719,1.0000)" font-family='"Liberation Sans", sans-serif' font-size="56.70" fill="#000" >C</text>
<rect x="780.30" y="698.10" width="1262.10" height="38.50" fill="#E9E1F5" />
<text font-family='"DejaVu Sans", "Liberation Sans", sans-serif' fill="#000" ><tspan x="1271.82" y="724.50" font-size="24.80" textLength="249.31" lengthAdjust="spacingAndGlyphs" font-style="italic">M. lychnidis-dioicae</tspan> <tspan x="1529.06" y="724.50" font-size="24.80" textLength="65.90" lengthAdjust="spacingAndGlyphs">1064</tspan> <tspan x="1603.39" y="724.50" font-size="24.80" textLength="16.45" lengthAdjust="spacingAndGlyphs">a</tspan><tspan x="1620.03" y="729.20" font-size="15.60" textLength="9.09" lengthAdjust="spacingAndGlyphs">1</tspan></text>
<text transform="translate(1381.57,763.90) scale(1.0210,1.0000)" font-family='"DejaVu Sans", "Liberation Sans", sans-serif' font-size="21.40" font-weight="bold" fill="#000" >position</text>
<text transform="translate(778.08,813.30) scale(1.0035,1.0000)" font-family='"DejaVu Sans", "Liberation Sans", sans-serif' font-size="21.40" font-weight="bold" fill="#000" >contig HD</text>
<path d="M916.00 803.40V807.80M975.94 803.40V807.80M1005.91 803.40V807.80M1035.88 803.40V807.80M1065.85 803.40V807.80M1095.82 803.40V807.80M1125.79 803.40V807.80M1155.76 803.40V807.80M1185.73 803.40V807.80M1215.70 803.40V807.80M1275.64 803.40V807.80M1305.61 803.40V807.80M1335.58 803.40V807.80M1365.55 803.40V807.80M1395.52 803.40V807.80M1425.49 803.40V807.80M1455.46 803.40V807.80M1485.43 803.40V807.80M1515.40 803.40V807.80M1575.34 803.40V807.80M1605.31 803.40V807.80M1635.28 803.40V807.80M1665.25 803.40V807.80M1695.22 803.40V807.80M1725.19 803.40V807.80M1755.16 803.40V807.80M1785.13 803.40V807.80M1815.10 803.40V807.80M1875.04 803.40V807.80M1905.01 803.40V807.80M1934.98 803.40V807.80M1964.95 803.40V807.80M1994.92 803.40V807.80M2024.89 803.40V807.80" stroke="#111" stroke-width="1.4" fill="none"/>
<path d="M946.00 797.10V809.90M1245.70 797.10V809.90M1545.60 797.10V809.90M1845.30 797.10V809.90" stroke="#000" stroke-width="1.9" fill="none"/>
<text transform="translate(942.75,790.80) scale(1.0725,1.0000)" font-family='"DejaVu Sans", "Liberation Sans", sans-serif' font-size="20.80" fill="#000" >1,297,000</text>
<text transform="translate(1242.45,790.80) scale(1.0725,1.0000)" font-family='"DejaVu Sans", "Liberation Sans", sans-serif' font-size="20.80" fill="#000" >1,298,000</text>
<text transform="translate(1542.16,788.00) scale(1.0347,1.0000)" font-family='"DejaVu Sans", "Liberation Sans", sans-serif' font-size="21.50" fill="#000" >1,299,000</text>
<text transform="translate(1841.96,788.00) scale(1.0347,1.0000)" font-family='"DejaVu Sans", "Liberation Sans", sans-serif' font-size="21.50" fill="#000" >1,300,000</text>
<rect x="1000.40" y="828.30" width="399.50" height="11.20" fill="#AC92DB" />
<line x1="995.00" y1="833.90" x2="1000.40" y2="833.90" stroke="#000" stroke-width="1.7" />
<path d="M992.00 833.90l6.2 -4.3v8.6z" fill="#000"/>
<line x1="1665.20" y1="833.90" x2="1685.00" y2="833.90" stroke="#111" stroke-width="1.3" />
<rect x="1466.80" y="828.30" width="198.40" height="11.20" fill="#AC92DB" />
<rect x="1685.00" y="828.30" width="238.10" height="11.20" fill="#AC92DB" />
<line x1="1923.10" y1="833.90" x2="1928.20" y2="833.90" stroke="#000" stroke-width="1.7" />
<path d="M1931.20 833.90l-6.2 -4.3v8.6z" fill="#000"/>
<circle cx="1979.6" cy="833.9" r="2.6" fill="#000"/>
<rect x="1980.00" y="828.30" width="22.80" height="11.20" fill="#DAA520" />
<text transform="translate(998.48,859.60) scale(1.0593,1.0000)" font-family='"DejaVu Sans", "Liberation Sans", sans-serif' font-size="20.80" fill="#000" >g435</text>
<text transform="translate(1466.00,859.60) scale(1.0493,1.0000)" font-family='"DejaVu Sans", "Liberation Sans", sans-serif' font-size="20.80" fill="#000" >g435</text>
<path d="M922.1 1002.6L922.1 960.4h1L923.1 960.3h1L924.1 961.9h1L925.1 961.6h1L926.1 958.5h1L927.1 958.7h1L928.1 959.3h1L929.1 958.0h1L930.1 958.0h1L931.1 957.5h1L932.1 959.1h1L933.1 959.9h1L934.1 957.4h1L935.1 958.0h1L936.1 958.3h1L937.1 961.3h1L938.1 961.4h1L939.1 959.6h1L940.1 962.0h1L941.1 959.5h1L942.1 962.4h1L943.1 960.7h1L944.1 958.5h1L945.1 963.9h1L946.1 963.1h1L947.1 962.2h1L948.1 958.2h1L949.1 953.6h1L950.1 957.8h1L951.1 957.3h1L952.1 958.2h1L953.1 958.7h1L954.1 959.3h1L955.1 958.7h1L956.1 957.6h1L957.1 957.5h1L958.1 958.7h1L959.1 961.7h1L960.1 961.3h1L961.1 961.5h1L962.1 959.6h1L963.1 959.6h1L964.1 959.2h1L965.1 960.9h1L966.1 960.7h1L967.1 1002.5h1L968.1 1002.5h1L969.1 1002.5h1L970.1 1002.5h1L971.1 1002.5h1L972.1 1002.5h1L973.1 1002.5h1L974.1 1002.5h1L975.1 1002.5h1L976.1 1002.5h1L977.1 1002.5h1L978.1 1002.5h1L979.1 1002.5h1L980.1 1002.5h1L981.1 1002.5h1L982.1 1002.5h1L983.1 1002.5h1L984.1 1002.5h1L985.1 1002.5h1L986.1 1002.5h1L987.1 1002.5h1L988.1 1002.5h1L989.1 1002.5h1L990.1 997.8h1L991.1 952.3h1L992.1 952.2h1L993.1 948.4h1L994.1 948.5h1L995.1 952.2h1L996.1 952.7h1L997.1 952.4h1L998.1 951.9h1L999.1 951.9h1L1000.1 951.4h1L1001.1 952.1h1L1002.1 950.8h1L1003.1 948.0h1L1004.1 947.8h1L1005.1 943.5h1L1006.1 937.5h1L1007.1 937.5h1L1008.1 938.9h1L1009.1 937.1h1L1010.1 931.1h1L1011.1 925.6h1L1012.1 925.5h1L1013.1 926.1h1L1014.1 924.8h1L1015.1 923.9h1L1016.1 925.5h1L1017.1 926.7h1L1018.1 933.3h1L1019.1 927.5h1L1020.1 927.7h1L1021.1 929.5h1L1022.1 929.4h1L1023.1 929.1h1L1024.1 927.7h1L1025.1 924.5h1L1026.1 923.7h1L1027.1 923.2h1L1028.1 927.2h1L1029.1 929.3h1L1030.1 929.8h1L1031.1 930.9h1L1032.1 927.1h1L1033.1 927.5h1L1034.1 926.7h1L1035.1 928.6h1L1036.1 925.3h1L1037.1 924.7h1L1038.1 924.2h1L1039.1 922.7h1L1040.1 922.3h1L1041.1 922.4h1L1042.1 922.7h1L1043.1 923.4h1L1044.1 927.2h1L1045.1 928.2h1L1046.1 927.4h1L1047.1 925.8h1L1048.1 925.6h1L1049.1 925.0h1L1050.1 927.1h1L1051.1 926.7h1L1052.1 925.8h1L1053.1 923.7h1L1054.1 923.7h1L1055.1 920.1h1L1056.1 923.4h1L1057.1 934.5h1L1058.1 936.8h1L1059.1 933.2h1L1060.1 932.9h1L1061.1 931.0h1L1062.1 930.1h1L1063.1 933.6h1L1064.1 924.9h1L1065.1 925.7h1L1066.1 924.8h1L1067.1 929.4h1L1068.1 927.6h1L1069.1 927.6h1L1070.1 928.2h1L1071.1 927.2h1L1072.1 927.6h1L1073.1 927.1h1L1074.1 927.2h1L1075.1 927.5h1L1076.1 928.2h1L1077.1 931.6h1L1078.1 926.8h1L1079.1 924.2h1L1080.1 922.9h1L1081.1 927.5h1L1082.1 927.3h1L1083.1 926.9h1L1084.1 925.0h1L1085.1 927.6h1L1086.1 928.6h1L1087.1 932.0h1L1088.1 931.5h1L1089.1 934.8h1L1090.1 927.6h1L1091.1 927.3h1L1092.1 930.6h1L1093.1 932.0h1L1094.1 935.3h1L1095.1 937.1h1L1096.1 937.5h1L1097.1 935.5h1L1098.1 935.7h1L1099.1 936.5h1L1100.1 934.6h1L1101.1 934.4h1L1102.1 933.7h1L1103.1 932.8h1L1104.1 935.6h1L1105.1 938.4h1L1106.1 939.0h1L1107.1 941.2h1L1108.1 942.2h1L1109.1 942.6h1L1110.1 933.9h1L1111.1 933.2h1L1112.1 938.0h1L1113.1 938.6h1L1114.1 936.7h1L1115.1 936.8h1L1116.1 936.3h1L1117.1 936.9h1L1118.1 937.9h1L1119.1 939.3h1L1120.1 938.6h1L1121.1 938.7h1L1122.1 939.9h1L1123.1 943.1h1L1124.1 948.5h1L1125.1 948.7h1L1126.1 949.7h1L1127.1 949.5h1L1128.1 949.0h1L1129.1 949.0h1L1130.1 948.3h1L1131.1 949.3h1L1132.1 948.5h1L1133.1 950.6h1L1134.1 947.3h1L1135.1 948.8h1L1136.1 955.2h1L1137.1 951.3h1L1138.1 951.6h1L1139.1 952.2h1L1140.1 951.3h1L1141.1 950.0h1L1142.1 950.9h1L1143.1 950.8h1L1144.1 950.4h1L1145.1 948.1h1L1146.1 949.5h1L1147.1 949.9h1L1148.1 949.5h1L1149.1 949.3h1L1150.1 949.7h1L1151.1 949.4h1L1152.1 949.5h1L1153.1 945.3h1L1154.1 946.1h1L1155.1 952.8h1L1156.1 952.5h1L1157.1 952.3h1L1158.1 949.4h1L1159.1 948.9h1L1160.1 948.7h1L1161.1 949.3h1L1162.1 948.9h1L1163.1 950.3h1L1164.1 952.5h1L1165.1 951.3h1L1166.1 948.8h1L1167.1 953.4h1L1168.1 952.9h1L1169.1 953.2h1L1170.1 948.2h1L1171.1 947.5h1L1172.1 951.2h1L1173.1 946.4h1L1174.1 941.9h1L1175.1 941.3h1L1176.1 942.0h1L1177.1 944.2h1L1178.1 944.6h1L1179.1 941.3h1L1180.1 947.1h1L1181.1 948.4h1L1182.1 949.2h1L1183.1 945.1h1L1184.1 949.6h1L1185.1 949.6h1L1186.1 948.4h1L1187.1 948.0h1L1188.1 946.5h1L1189.1 944.6h1L1190.1 948.5h1L1191.1 948.5h1L1192.1 947.6h1L1193.1 949.5h1L1194.1 950.7h1L1195.1 952.8h1L1196.1 953.8h1L1197.1 955.3h1L1198.1 954.8h1L1199.1 950.9h1L1200.1 950.9h1L1201.1 950.8h1L1202.1 953.8h1L1203.1 955.0h1L1204.1 954.9h1L1205.1 951.9h1L1206.1 953.5h1L1207.1 951.6h1L1208.1 952.2h1L1209.1 954.0h1L1210.1 952.5h1L1211.1 952.2h1L1212.1 954.7h1L1213.1 953.6h1L1214.1 955.2h1L1215.1 955.6h1L1216.1 956.1h1L1217.1 955.6h1L1218.1 957.4h1L1219.1 959.1h1L1220.1 960.6h1L1221.1 960.6h1L1222.1 961.1h1L1223.1 965.6h1L1224.1 966.3h1L1225.1 963.9h1L1226.1 964.5h1L1227.1 962.6h1L1228.1 965.0h1L1229.1 965.2h1L1230.1 966.9h1L1231.1 967.1h1L1232.1 965.5h1L1233.1 965.0h1L1234.1 964.6h1L1235.1 965.9h1L1236.1 965.4h1L1237.1 963.9h1L1238.1 962.8h1L1239.1 962.6h1L1240.1 961.6h1L1241.1 959.6h1L1242.1 959.6h1L1243.1 961.6h1L1244.1 964.4h1L1245.1 965.4h1L1246.1 961.8h1L1247.1 961.4h1L1248.1 963.2h1L1249.1 961.0h1L1250.1 960.0h1L1251.1 959.6h1L1252.1 959.4h1L1253.1 954.6h1L1254.1 953.9h1L1255.1 957.7h1L1256.1 955.4h1L1257.1 954.8h1L1258.1 955.2h1L1259.1 954.5h1L1260.1 954.4h1L1261.1 955.5h1L1262.1 956.6h1L1263.1 957.0h1L1264.1 956.2h1L1265.1 955.6h1L1266.1 954.8h1L1267.1 953.0h1L1268.1 951.6h1L1269.1 949.5h1L1270.1 950.5h1L1271.1 949.9h1L1272.1 950.2h1L1273.1 951.3h1L1274.1 948.1h1L1275.1 949.0h1L1276.1 948.7h1L1277.1 948.4h1L1278.1 949.7h1L1279.1 949.4h1L1280.1 950.1h1L1281.1 949.1h1L1282.1 948.7h1L1283.1 949.9h1L1284.1 954.1h1L1285.1 954.7h1L1286.1 955.6h1L1287.1 955.4h1L1288.1 953.1h1L1289.1 955.8h1L1290.1 955.9h1L1291.1 955.1h1L1292.1 955.7h1L1293.1 955.6h1L1294.1 956.4h1L1295.1 956.6h1L1296.1 957.2h1L1297.1 958.1h1L1298.1 958.5h1L1299.1 958.3h1L1300.1 959.3h1L1301.1 961.3h1L1302.1 961.7h1L1303.1 962.1h1L1304.1 963.5h1L1305.1 960.5h1L1306.1 961.0h1L1307.1 960.6h1L1308.1 961.9h1L1309.1 961.1h1L1310.1 960.7h1L1311.1 958.8h1L1312.1 955.9h1L1313.1 954.8h1L1314.1 953.6h1L1315.1 956.2h1L1316.1 956.6h1L1317.1 956.8h1L1318.1 959.0h1L1319.1 957.4h1L1320.1 957.7h1L1321.1 959.9h1L1322.1 956.8h1L1323.1 954.3h1L1324.1 952.3h1L1325.1 953.5h1L1326.1 951.3h1L1327.1 951.1h1L1328.1 951.1h1L1329.1 952.2h1L1330.1 950.3h1L1331.1 950.9h1L1332.1 951.0h1L1333.1 951.6h1L1334.1 951.0h1L1335.1 950.6h1L1336.1 949.7h1L1337.1 949.8h1L1338.1 951.1h1L1339.1 952.0h1L1340.1 950.1h1L1341.1 950.2h1L1342.1 953.3h1L1343.1 953.0h1L1344.1 953.2h1L1345.1 956.2h1L1346.1 958.3h1L1347.1 961.9h1L1348.1 963.7h1L1349.1 965.6h1L1350.1 965.9h1L1351.1 968.7h1L1352.1 970.2h1L1353.1 971.2h1L1354.1 972.2h1L1355.1 973.3h1L1356.1 975.6h1L1357.1 977.1h1L1358.1 978.8h1L1359.1 979.9h1L1360.1 978.2h1L1361.1 975.1h1L1362.1 973.7h1L1363.1 972.5h1L1364.1 970.9h1L1365.1 970.5h1L1366.1 970.7h1L1367.1 970.3h1L1368.1 970.1h1L1369.1 971.7h1L1370.1 969.5h1L1371.1 969.0h1L1372.1 966.1h1L1373.1 967.3h1L1374.1 966.1h1L1375.1 966.0h1L1376.1 965.2h1L1377.1 964.8h1L1378.1 963.2h1L1379.1 966.0h1L1380.1 967.9h1L1381.1 966.5h1L1382.1 967.0h1L1383.1 967.0h1L1384.1 967.1h1L1385.1 966.2h1L1386.1 967.3h1L1387.1 968.3h1L1388.1 969.3h1L1389.1 969.4h1L1390.1 968.2h1L1391.1 973.3h1L1392.1 973.5h1L1393.1 969.2h1L1394.1 972.5h1L1395.1 972.6h1L1396.1 973.3h1L1397.1 974.2h1L1398.1 974.7h1L1399.1 976.2h1L1400.1 975.7h1L1401.1 979.5h1L1402.1 980.9h1L1403.1 983.1h1L1404.1 985.5h1L1405.1 986.9h1L1406.1 987.5h1L1407.1 988.1h1L1408.1 989.0h1L1409.1 990.3h1L1410.1 990.9h1L1411.1 991.7h1L1412.1 993.2h1L1413.1 993.6h1L1414.1 994.4h1L1415.1 993.5h1L1416.1 994.9h1L1417.1 996.4h1L1418.1 998.0h1L1419.1 998.3h1L1420.1 1000.5h1L1421.1 1001.0h1L1422.1 1001.5h1L1423.1 1002.1h1L1424.1 1002.0h1L1425.1 1002.0h1L1426.1 1002.0h1L1427.1 1001.9h1L1428.1 1001.9h1L1429.1 1001.9h1L1430.1 1001.8h1L1431.1 1001.8h1L1432.1 1001.8h1L1433.1 1001.7h1L1434.1 1001.7h1L1435.1 1001.7h1L1436.1 1001.6h1L1437.1 1001.6h1L1438.1 1001.6h1L1439.1 1001.5h1L1440.1 1001.5h1L1441.1 1001.5h1L1442.1 1001.4h1L1443.1 1001.4h1L1444.1 1001.4h1L1445.1 1001.4h1L1446.1 1001.3h1L1447.1 1001.3h1L1448.1 1001.3h1L1449.1 1001.2h1L1450.1 1001.2h1L1451.1 1001.2h1L1452.1 1001.1h1L1453.1 1001.1h1L1454.1 1001.1h1L1455.1 1001.1h1L1456.1 1000.9h1L1457.1 1000.1h1L1458.1 999.7h1L1459.1 998.7h1L1460.1 998.1h1L1461.1 996.9h1L1462.1 996.7h1L1463.1 994.6h1L1464.1 992.9h1L1465.1 992.7h1L1466.1 990.1h1L1467.1 988.1h1L1468.1 988.6h1L1469.1 987.6h1L1470.1 987.2h1L1471.1 985.3h1L1472.1 984.5h1L1473.1 983.5h1L1474.1 983.0h1L1475.1 982.8h1L1476.1 983.0h1L1477.1 982.9h1L1478.1 982.9h1L1479.1 982.1h1L1480.1 982.1h1L1481.1 984.1h1L1482.1 984.1h1L1483.1 983.7h1L1484.1 981.9h1L1485.1 982.4h1L1486.1 982.5h1L1487.1 982.9h1L1488.1 983.9h1L1489.1 985.6h1L1490.1 986.5h1L1491.1 987.7h1L1492.1 988.0h1L1493.1 987.3h1L1494.1 987.2h1L1495.1 986.3h1L1496.1 985.5h1L1497.1 984.7h1L1498.1 985.0h1L1499.1 984.7h1L1500.1 985.5h1L1501.1 984.8h1L1502.1 984.9h1L1503.1 984.7h1L1504.1 984.2h1L1505.1 983.4h1L1506.1 982.8h1L1507.1 981.1h1L1508.1 980.7h1L1509.1 981.5h1L1510.1 980.6h1L1511.1 980.2h1L1512.1 977.8h1L1513.1 977.4h1L1514.1 979.0h1L1515.1 978.3h1L1516.1 979.4h1L1517.1 977.1h1L1518.1 978.9h1L1519.1 980.0h1L1520.1 980.4h1L1521.1 980.9h1L1522.1 980.6h1L1523.1 979.7h1L1524.1 979.5h1L1525.1 978.8h1L1526.1 978.5h1L1527.1 977.9h1L1528.1 977.7h1L1529.1 977.2h1L1530.1 976.2h1L1531.1 975.9h1L1532.1 975.8h1L1533.1 977.4h1L1534.1 977.2h1L1535.1 976.0h1L1536.1 976.4h1L1537.1 976.5h1L1538.1 974.0h1L1539.1 973.4h1L1540.1 976.2h1L1541.1 977.4h1L1542.1 975.9h1L1543.1 976.3h1L1544.1 975.6h1L1545.1 973.8h1L1546.1 974.8h1L1547.1 976.9h1L1548.1 975.1h1L1549.1 974.0h1L1550.1 973.9h1L1551.1 976.9h1L1552.1 977.3h1L1553.1 977.4h1L1554.1 977.5h1L1555.1 977.9h1L1556.1 978.4h1L1557.1 978.2h1L1558.1 980.3h1L1559.1 979.6h1L1560.1 978.5h1L1561.1 979.8h1L1562.1 981.3h1L1563.1 982.0h1L1564.1 981.2h1L1565.1 979.1h1L1566.1 978.1h1L1567.1 977.9h1L1568.1 978.7h1L1569.1 977.9h1L1570.1 976.8h1L1571.1 976.1h1L1572.1 976.7h1L1573.1 976.8h1L1574.1 975.1h1L1575.1 975.5h1L1576.1 977.7h1L1577.1 977.9h1L1578.1 976.8h1L1579.1 976.4h1L1580.1 976.0h1L1581.1 974.7h1L1582.1 974.1h1L1583.1 974.2h1L1584.1 975.5h1L1585.1 975.7h1L1586.1 975.8h1L1587.1 975.4h1L1588.1 974.4h1L1589.1 977.1h1L1590.1 975.9h1L1591.1 973.9h1L1592.1 975.0h1L1593.1 974.9h1L1594.1 974.6h1L1595.1 975.1h1L1596.1 975.1h1L1597.1 974.4h1L1598.1 974.2h1L1599.1 972.7h1L1600.1 972.2h1L1601.1 970.7h1L1602.1 966.3h1L1603.1 964.9h1L1604.1 965.5h1L1605.1 965.4h1L1606.1 965.7h1L1607.1 965.8h1L1608.1 967.6h1L1609.1 968.0h1L1610.1 966.1h1L1611.1 964.1h1L1612.1 964.2h1L1613.1 966.6h1L1614.1 966.9h1L1615.1 966.1h1L1616.1 965.6h1L1617.1 966.4h1L1618.1 965.7h1L1619.1 966.2h1L1620.1 967.6h1L1621.1 968.0h1L1622.1 969.7h1L1623.1 973.2h1L1624.1 974.0h1L1625.1 975.7h1L1626.1 975.4h1L1627.1 974.9h1L1628.1 973.7h1L1629.1 973.0h1L1630.1 972.0h1L1631.1 971.5h1L1632.1 971.3h1L1633.1 968.5h1L1634.1 972.4h1L1635.1 968.5h1L1636.1 968.2h1L1637.1 970.5h1L1638.1 967.5h1L1639.1 967.4h1L1640.1 971.0h1L1641.1 969.0h1L1642.1 968.9h1L1643.1 964.8h1L1644.1 964.3h1L1645.1 963.3h1L1646.1 966.8h1L1647.1 965.5h1L1648.1 967.9h1L1649.1 967.9h1L1650.1 965.7h1L1651.1 965.8h1L1652.1 966.6h1L1653.1 966.2h1L1654.1 967.0h1L1655.1 966.3h1L1656.1 966.5h1L1657.1 965.9h1L1658.1 965.6h1L1659.1 965.4h1L1660.1 965.2h1L1661.1 965.6h1L1662.1 962.2h1L1663.1 963.8h1L1664.1 1002.5h1L1665.1 1002.5h1L1666.1 1002.5h1L1667.1 1002.5h1L1668.1 1002.5h1L1669.1 1002.5h1L1670.1 1002.5h1L1671.1 1002.5h1L1672.1 1002.5h1L1673.1 1002.5h1L1674.1 1002.5h1L1675.1 1002.5h1L1676.1 1002.5h1L1677.1 1002.5h1L1678.1 1002.5h1L1679.1 1002.5h1L1680.1 1002.5h1L1681.1 1002.5h1L1682.1 1002.5h1L1683.1 1002.5h1L1684.1 966.1h1L1685.1 966.0h1L1686.1 965.7h1L1687.1 962.6h1L1688.1 961.3h1L1689.1 959.9h1L1690.1 959.1h1L1691.1 958.1h1L1692.1 954.4h1L1693.1 954.6h1L1694.1 958.6h1L1695.1 957.5h1L1696.1 955.0h1L1697.1 954.4h1L1698.1 954.6h1L1699.1 955.4h1L1700.1 954.6h1L1701.1 954.1h1L1702.1 954.1h1L1703.1 954.1h1L1704.1 956.8h1L1705.1 957.2h1L1706.1 957.7h1L1707.1 957.1h1L1708.1 954.0h1L1709.1 954.9h1L1710.1 958.2h1L1711.1 958.8h1L1712.1 960.1h1L1713.1 958.2h1L1714.1 957.9h1L1715.1 959.4h1L1716.1 957.4h1L1717.1 957.8h1L1718.1 958.3h1L1719.1 958.9h1L1720.1 958.0h1L1721.1 958.4h1L1722.1 960.7h1L1723.1 961.6h1L1724.1 962.0h1L1725.1 965.8h1L1726.1 964.4h1L1727.1 963.4h1L1728.1 962.0h1L1729.1 960.3h1L1730.1 958.7h1L1731.1 958.6h1L1732.1 956.8h1L1733.1 956.9h1L1734.1 955.5h1L1735.1 954.1h1L1736.1 949.2h1L1737.1 947.6h1L1738.1 947.9h1L1739.1 950.0h1L1740.1 950.1h1L1741.1 950.8h1L1742.1 949.6h1L1743.1 953.4h1L1744.1 949.0h1L1745.1 948.7h1L1746.1 949.4h1L1747.1 950.7h1L1748.1 948.3h1L1749.1 950.3h1L1750.1 951.0h1L1751.1 948.5h1L1752.1 952.4h1L1753.1 949.8h1L1754.1 950.2h1L1755.1 950.2h1L1756.1 952.5h1L1757.1 952.0h1L1758.1 953.8h1L1759.1 948.0h1L1760.1 946.8h1L1761.1 948.6h1L1762.1 947.4h1L1763.1 946.3h1L1764.1 942.2h1L1765.1 939.6h1L1766.1 938.8h1L1767.1 940.0h1L1768.1 940.2h1L1769.1 944.1h1L1770.1 941.2h1L1771.1 941.2h1L1772.1 943.2h1L1773.1 943.6h1L1774.1 943.2h1L1775.1 940.5h1L1776.1 939.7h1L1777.1 938.6h1L1778.1 941.7h1L1779.1 940.1h1L1780.1 938.6h1L1781.1 934.5h1L1782.1 933.3h1L1783.1 931.1h1L1784.1 932.9h1L1785.1 933.3h1L1786.1 935.9h1L1787.1 936.8h1L1788.1 935.3h1L1789.1 935.8h1L1790.1 938.7h1L1791.1 938.0h1L1792.1 939.7h1L1793.1 938.1h1L1794.1 935.2h1L1795.1 932.0h1L1796.1 930.0h1L1797.1 926.1h1L1798.1 928.4h1L1799.1 928.9h1L1800.1 929.0h1L1801.1 929.6h1L1802.1 928.2h1L1803.1 934.5h1L1804.1 932.0h1L1805.1 932.2h1L1806.1 933.3h1L1807.1 933.6h1L1808.1 932.4h1L1809.1 932.2h1L1810.1 933.1h1L1811.1 934.6h1L1812.1 933.6h1L1813.1 932.5h1L1814.1 932.7h1L1815.1 929.2h1L1816.1 927.6h1L1817.1 925.7h1L1818.1 927.6h1L1819.1 930.8h1L1820.1 933.0h1L1821.1 935.2h1L1822.1 934.1h1L1823.1 932.7h1L1824.1 934.0h1L1825.1 932.4h1L1826.1 933.5h1L1827.1 939.2h1L1828.1 938.1h1L1829.1 937.9h1L1830.1 936.6h1L1831.1 934.4h1L1832.1 930.2h1L1833.1 931.3h1L1834.1 931.7h1L1835.1 931.5h1L1836.1 929.5h1L1837.1 935.2h1L1838.1 935.2h1L1839.1 930.4h1L1840.1 929.8h1L1841.1 929.0h1L1842.1 927.9h1L1843.1 926.7h1L1844.1 925.6h1L1845.1 924.1h1L1846.1 923.6h1L1847.1 923.7h1L1848.1 923.9h1L1849.1 927.1h1L1850.1 927.2h1L1851.1 927.3h1L1852.1 927.1h1L1853.1 927.0h1L1854.1 928.6h1L1855.1 931.7h1L1856.1 934.5h1L1857.1 934.1h1L1858.1 935.8h1L1859.1 936.8h1L1860.1 937.8h1L1861.1 936.0h1L1862.1 936.3h1L1863.1 939.7h1L1864.1 940.4h1L1865.1 940.4h1L1866.1 941.5h1L1867.1 943.6h1L1868.1 943.4h1L1869.1 945.8h1L1870.1 945.0h1L1871.1 948.8h1L1872.1 948.8h1L1873.1 947.0h1L1874.1 945.7h1L1875.1 945.4h1L1876.1 945.7h1L1877.1 948.3h1L1878.1 945.9h1L1879.1 947.8h1L1880.1 948.8h1L1881.1 951.0h1L1882.1 953.2h1L1883.1 951.7h1L1884.1 954.1h1L1885.1 959.7h1L1886.1 957.8h1L1887.1 957.9h1L1888.1 958.5h1L1889.1 957.9h1L1890.1 956.4h1L1891.1 955.4h1L1892.1 953.2h1L1893.1 953.6h1L1894.1 953.5h1L1895.1 952.5h1L1896.1 953.8h1L1897.1 954.3h1L1898.1 955.9h1L1899.1 957.6h1L1900.1 958.7h1L1901.1 959.9h1L1902.1 960.1h1L1903.1 958.6h1L1904.1 953.9h1L1905.1 952.8h1L1906.1 951.6h1L1907.1 950.6h1L1908.1 950.4h1L1909.1 950.2h1L1910.1 953.4h1L1911.1 955.0h1L1912.1 957.1h1L1913.1 959.2h1L1914.1 962.0h1L1915.1 962.0h1L1916.1 962.5h1L1917.1 963.3h1L1918.1 964.2h1L1919.1 962.7h1L1920.1 967.4h1L1921.1 967.0h1L1922.1 966.7h1L1923.1 966.0h1L1924.1 964.9h1L1925.1 963.6h1L1926.1 963.6h1L1927.1 962.9h1L1928.1 964.2h1L1929.1 965.5h1L1930.1 966.2h1L1931.1 966.0h1L1932.1 966.9h1L1933.1 965.3h1L1934.1 968.1h1L1935.1 968.9h1L1936.1 970.5h1L1937.1 972.8h1L1938.1 974.1h1L1939.1 974.2h1L1940.1 976.5h1L1941.1 979.5h1L1942.1 981.5h1L1943.1 982.3h1L1944.1 983.4h1L1945.1 983.6h1L1946.1 984.9h1L1947.1 987.1h1L1948.1 987.9h1L1949.1 988.7h1L1950.1 987.6h1L1951.1 988.3h1L1952.1 989.1h1L1953.1 991.3h1L1954.1 992.0h1L1955.1 992.7h1L1956.1 992.4h1L1957.1 992.5h1L1958.1 991.6h1L1959.1 991.7h1L1960.1 991.9h1L1961.1 991.8h1L1962.1 990.3h1L1963.1 990.0h1L1964.1 988.3h1L1965.1 986.0h1L1966.1 984.7h1L1967.1 984.6h1L1968.1 984.1h1L1969.1 983.5h1L1970.1 983.4h1L1971.1 985.1h1L1972.1 984.9h1L1973.1 983.9h1L1974.1 983.8h1L1975.1 984.6h1L1976.1 986.6h1L1977.1 987.4h1L1978.1 987.0h1L1979.1 984.9h1L1980.1 983.4h1L1981.1 985.9h1L1982.1 981.3h1L1983.1 979.9h1L1984.1 979.8h1L1985.1 978.8h1L1986.1 977.6h1L1987.1 977.2h1L1988.1 976.0h1L1989.1 974.1h1L1990.1 974.8h1L1991.1 974.0h1L1992.1 973.7h1L1993.1 972.8h1L1994.1 969.6h1L1995.1 969.3h1L1996.1 968.9h1L1997.1 972.8h1L1998.1 971.6h1L1999.1 971.2h1L2000.1 968.5h1L2001.1 1002.6Z" fill="#D3D3D3"/>
<line x1="922.10" y1="890.98" x2="922.10" y2="1003.52" stroke="#000" stroke-width="1.25" />
<line x1="914.40" y1="891.60" x2="922.10" y2="891.60" stroke="#000" stroke-width="1.25" />
<line x1="914.40" y1="910.20" x2="922.10" y2="910.20" stroke="#000" stroke-width="1.25" />
<line x1="914.40" y1="928.80" x2="922.10" y2="928.80" stroke="#000" stroke-width="1.25" />
<line x1="914.40" y1="947.40" x2="922.10" y2="947.40" stroke="#000" stroke-width="1.25" />
<line x1="914.40" y1="965.80" x2="922.10" y2="965.80" stroke="#000" stroke-width="1.25" />
<line x1="914.40" y1="984.40" x2="922.10" y2="984.40" stroke="#000" stroke-width="1.25" />
<line x1="914.40" y1="1002.90" x2="922.10" y2="1002.90" stroke="#000" stroke-width="1.25" />
<text transform="translate(855.60,898.60) scale(1.0514,1.0000)" font-family='"DejaVu Sans", "Liberation Sans", sans-serif' font-size="20.80" fill="#000" >1200</text>
<text transform="translate(868.74,954.20) scale(1.0714,1.0000)" font-family='"DejaVu Sans", "Liberation Sans", sans-serif' font-size="20.80" fill="#000" >600</text>
<text transform="translate(896.00,1009.70) scale(1.1640,1.0000)" font-family='"DejaVu Sans", "Liberation Sans", sans-serif' font-size="20.80" fill="#000" >0</text>
<text transform="translate(850.00,977.00) rotate(-90) scale(0.9788,1)" font-family='"DejaVu Sans", "Liberation Sans", sans-serif' font-size="22.20" fill="#000">depth</text>
<path d="M966.40 985.90A11.95 74.30 0 0 1 990.30 985.90" fill="none" stroke="#D8CAF2" stroke-width="6.5" stroke-opacity="1.0"/>
<path d="M964.60 985.90A13.75 76.10 0 0 1 992.10 985.90" fill="none" stroke="#F6CBD9" stroke-width="1.0" stroke-opacity="0.9"/>
<path d="M966.90 985.90A11.45 73.70 0 0 1 989.80 985.90" fill="none" stroke="#F6CBD9" stroke-width="1.0" stroke-opacity="0.7"/>
<path d="M968.60 985.90A9.75 72.00 0 0 1 988.10 985.90" fill="none" stroke="#F6CBD9" stroke-width="1.0" stroke-opacity="0.9"/>
<path d="M1154.40 985.90A14.35 74.80 0 0 1 1183.10 985.90" fill="none" stroke="#CDCDFB" stroke-width="1.1" stroke-opacity="1.0"/>
<path d="M1414.20 985.90A22.20 74.80 0 0 1 1458.60 985.90" fill="none" stroke="#D2D2FA" stroke-width="1.1" stroke-opacity="1.0"/>
<path d="M1573.40 985.90A12.95 74.80 0 0 1 1599.30 985.90" fill="none" stroke="#D0CDF8" stroke-width="1.4" stroke-opacity="1.0"/>
<path d="M1662.90 985.90A10.30 73.90 0 0 1 1683.50 985.90" fill="none" stroke="#D8CCF2" stroke-width="6.2" stroke-opacity="1.0"/>
<path d="M1940.80 985.90A12.50 74.30 0 0 1 1965.80 985.90" fill="none" stroke="#F3C6DA" stroke-width="2.0" stroke-opacity="1.0"/>
<rect x="783.20" y="1021.20" width="1261.80" height="38.30" fill="#E9E1F5" />
<text font-family='"DejaVu Sans", "Liberation Sans", sans-serif' fill="#000" ><tspan x="1274.02" y="1047.60" font-size="24.80" textLength="249.31" lengthAdjust="spacingAndGlyphs" font-style="italic">M. lychnidis-dioicae</tspan> <tspan x="1531.26" y="1047.60" font-size="24.80" textLength="65.90" lengthAdjust="spacingAndGlyphs">1064</tspan> <tspan x="1605.59" y="1047.60" font-size="24.80" textLength="16.45" lengthAdjust="spacingAndGlyphs">a</tspan><tspan x="1621.04" y="1052.50" font-size="15.60" textLength="11.82" lengthAdjust="spacingAndGlyphs">2</tspan></text>
<text transform="translate(778.07,1115.80) scale(1.0061,1.0000)" font-family='"DejaVu Sans", "Liberation Sans", sans-serif' font-size="21.40" font-weight="bold" fill="#000" >contig HD</text>
<path d="M941.60 1105.20V1109.80M972.38 1105.20V1109.80M1003.16 1105.20V1109.80M1033.94 1105.20V1109.80M1064.72 1105.20V1109.80M1126.28 1105.20V1109.80M1157.06 1105.20V1109.80M1187.84 1105.20V1109.80M1218.62 1105.20V1109.80M1249.40 1105.20V1109.80M1280.18 1105.20V1109.80M1310.96 1105.20V1109.80M1341.74 1105.20V1109.80M1372.52 1105.20V1109.80M1434.08 1105.20V1109.80M1464.86 1105.20V1109.80M1495.64 1105.20V1109.80M1526.42 1105.20V1109.80M1557.20 1105.20V1109.80M1587.98 1105.20V1109.80M1618.76 1105.20V1109.80M1649.54 1105.20V1109.80M1680.32 1105.20V1109.80M1741.88 1105.20V1109.80M1772.66 1105.20V1109.80M1803.44 1105.20V1109.80M1834.22 1105.20V1109.80M1865.00 1105.20V1109.80M1895.78 1105.20V1109.80M1926.56 1105.20V1109.80M1957.34 1105.20V1109.80M1988.12 1105.20V1109.80" stroke="#111" stroke-width="1.4" fill="none"/>
<path d="M1095.50 1096.20V1112.50M1403.20 1096.20V1112.50M1711.10 1096.20V1112.50M2019.00 1096.20V1112.50" stroke="#000" stroke-width="1.9" fill="none"/>
<text transform="translate(1004.90,1087.20) scale(1.0811,1.0000)" font-family='"DejaVu Sans", "Liberation Sans", sans-serif' font-size="20.80" fill="#000" >468,000</text>
<text transform="translate(1341.51,1087.20) scale(1.0692,1.0000)" font-family='"DejaVu Sans", "Liberation Sans", sans-serif' font-size="20.80" fill="#000" >469,000</text>
<text transform="translate(1677.11,1087.20) scale(1.0740,1.0000)" font-family='"DejaVu Sans", "Liberation Sans", sans-serif' font-size="20.80" fill="#000" >470,000</text>
<rect x="1002.70" y="1131.30" width="413.10" height="11.90" fill="#5F37A8" />
<line x1="997.40" y1="1137.25" x2="1002.70" y2="1137.25" stroke="#000" stroke-width="1.7" />
<path d="M994.40 1137.25l6.2 -4.3v8.6z" fill="#000"/>
<line x1="1707.50" y1="1137.25" x2="1725.70" y2="1137.25" stroke="#111" stroke-width="1.3" />
<rect x="1492.20" y="1131.30" width="215.30" height="11.90" fill="#5F37A8" />
<rect x="1725.70" y="1131.30" width="241.30" height="11.90" fill="#5F37A8" />
<line x1="1967.00" y1="1137.25" x2="1972.10" y2="1137.25" stroke="#000" stroke-width="1.7" />
<path d="M1975.10 1137.25l-6.2 -4.3v8.6z" fill="#000"/>
<rect x="2032.00" y="1131.30" width="5.00" height="11.90" fill="#DAA520" />
<line x1="2027.00" y1="1137.25" x2="2032.00" y2="1137.25" stroke="#000" stroke-width="1.7" />
<path d="M2024.00 1137.25l6.2 -4.3v8.6z" fill="#000"/>
<text transform="translate(1000.49,1163.00) scale(1.0546,1.0000)" font-family='"DejaVu Sans", "Liberation Sans", sans-serif' font-size="20.80" fill="#000" >g156</text>
<text transform="translate(1496.48,1163.00) scale(1.0651,1.0000)" font-family='"DejaVu Sans", "Liberation Sans", sans-serif' font-size="20.80" fill="#000" >g1572</text>
<path d="M928.2 1303.6L928.2 1301.0h1L929.2 1301.0h1L930.2 1301.0h1L931.2 1301.0h1L932.2 1300.9h1L933.2 1300.9h1L934.2 1300.9h1L935.2 1300.8h1L936.2 1300.8h1L937.2 1300.8h1L938.2 1300.8h1L939.2 1300.7h1L940.2 1300.7h1L941.2 1300.7h1L942.2 1300.6h1L943.2 1300.6h1L944.2 1300.2h1L945.2 1299.7h1L946.2 1300.0h1L947.2 1299.7h1L948.2 1298.8h1L949.2 1297.2h1L950.2 1294.8h1L951.2 1288.1h1L952.2 1282.9h1L953.2 1281.0h1L954.2 1280.5h1L955.2 1281.6h1L956.2 1281.5h1L957.2 1282.2h1L958.2 1282.5h1L959.2 1280.5h1L960.2 1281.8h1L961.2 1280.8h1L962.2 1280.5h1L963.2 1278.7h1L964.2 1275.1h1L965.2 1273.6h1L966.2 1273.6h1L967.2 1270.8h1L968.2 1270.4h1L969.2 1303.5h1L970.2 1303.5h1L971.2 1303.5h1L972.2 1303.5h1L973.2 1303.5h1L974.2 1303.5h1L975.2 1303.5h1L976.2 1303.5h1L977.2 1303.5h1L978.2 1303.5h1L979.2 1303.5h1L980.2 1303.5h1L981.2 1303.5h1L982.2 1303.5h1L983.2 1303.5h1L984.2 1303.5h1L985.2 1303.5h1L986.2 1303.5h1L987.2 1303.5h1L988.2 1303.5h1L989.2 1303.5h1L990.2 1303.5h1L991.2 1303.5h1L992.2 1303.5h1L993.2 1256.7h1L994.2 1257.4h1L995.2 1257.7h1L996.2 1259.5h1L997.2 1259.5h1L998.2 1259.6h1L999.2 1262.2h1L1000.2 1261.8h1L1001.2 1260.3h1L1002.2 1257.7h1L1003.2 1256.0h1L1004.2 1250.5h1L1005.2 1249.0h1L1006.2 1251.1h1L1007.2 1250.1h1L1008.2 1246.4h1L1009.2 1237.6h1L1010.2 1238.2h1L1011.2 1232.6h1L1012.2 1234.6h1L1013.2 1231.9h1L1014.2 1232.3h1L1015.2 1230.5h1L1016.2 1228.6h1L1017.2 1231.0h1L1018.2 1231.4h1L1019.2 1232.8h1L1020.2 1241.1h1L1021.2 1241.1h1L1022.2 1234.5h1L1023.2 1234.9h1L1024.2 1238.7h1L1025.2 1236.8h1L1026.2 1236.3h1L1027.2 1234.5h1L1028.2 1234.7h1L1029.2 1233.3h1L1030.2 1232.2h1L1031.2 1234.3h1L1032.2 1236.9h1L1033.2 1241.5h1L1034.2 1241.4h1L1035.2 1241.1h1L1036.2 1241.3h1L1037.2 1240.7h1L1038.2 1239.4h1L1039.2 1238.5h1L1040.2 1237.2h1L1041.2 1235.3h1L1042.2 1236.3h1L1043.2 1235.0h1L1044.2 1234.5h1L1045.2 1229.4h1L1046.2 1233.8h1L1047.2 1237.7h1L1048.2 1236.7h1L1049.2 1231.6h1L1050.2 1231.3h1L1051.2 1236.2h1L1052.2 1235.4h1L1053.2 1232.5h1L1054.2 1232.6h1L1055.2 1231.8h1L1056.2 1231.5h1L1057.2 1226.1h1L1058.2 1236.2h1L1059.2 1237.4h1L1060.2 1240.2h1L1061.2 1240.7h1L1062.2 1240.6h1L1063.2 1242.4h1L1064.2 1243.3h1L1065.2 1243.7h1L1066.2 1234.0h1L1067.2 1232.5h1L1068.2 1230.3h1L1069.2 1228.1h1L1070.2 1236.2h1L1071.2 1236.8h1L1072.2 1230.4h1L1073.2 1233.3h1L1074.2 1232.1h1L1075.2 1235.2h1L1076.2 1234.0h1L1077.2 1230.3h1L1078.2 1229.8h1L1079.2 1230.1h1L1080.2 1234.7h1L1081.2 1230.6h1L1082.2 1232.3h1L1083.2 1230.5h1L1084.2 1224.7h1L1085.2 1221.7h1L1086.2 1221.2h1L1087.2 1231.5h1L1088.2 1231.4h1L1089.2 1227.4h1L1090.2 1230.3h1L1091.2 1232.9h1L1092.2 1237.2h1L1093.2 1233.7h1L1094.2 1234.9h1L1095.2 1233.1h1L1096.2 1234.4h1L1097.2 1235.5h1L1098.2 1238.2h1L1099.2 1232.4h1L1100.2 1234.5h1L1101.2 1235.5h1L1102.2 1237.1h1L1103.2 1241.2h1L1104.2 1240.7h1L1105.2 1237.7h1L1106.2 1242.8h1L1107.2 1242.0h1L1108.2 1233.6h1L1109.2 1235.3h1L1110.2 1236.8h1L1111.2 1237.1h1L1112.2 1238.0h1L1113.2 1242.6h1L1114.2 1242.7h1L1115.2 1239.0h1L1116.2 1242.0h1L1117.2 1241.1h1L1118.2 1243.3h1L1119.2 1240.4h1L1120.2 1242.6h1L1121.2 1237.2h1L1122.2 1237.9h1L1123.2 1238.3h1L1124.2 1243.0h1L1125.2 1238.0h1L1126.2 1238.5h1L1127.2 1243.5h1L1128.2 1244.1h1L1129.2 1246.9h1L1130.2 1249.9h1L1131.2 1252.6h1L1132.2 1252.7h1L1133.2 1253.5h1L1134.2 1255.6h1L1135.2 1255.8h1L1136.2 1254.5h1L1137.2 1252.1h1L1138.2 1249.9h1L1139.2 1249.6h1L1140.2 1249.7h1L1141.2 1244.9h1L1142.2 1247.6h1L1143.2 1248.4h1L1144.2 1250.3h1L1145.2 1249.3h1L1146.2 1247.5h1L1147.2 1247.8h1L1148.2 1248.0h1L1149.2 1241.5h1L1150.2 1240.7h1L1151.2 1239.6h1L1152.2 1243.4h1L1153.2 1243.0h1L1154.2 1242.6h1L1155.2 1242.0h1L1156.2 1241.9h1L1157.2 1244.2h1L1158.2 1244.1h1L1159.2 1243.8h1L1160.2 1245.9h1L1161.2 1249.4h1L1162.2 1250.3h1L1163.2 1251.3h1L1164.2 1249.7h1L1165.2 1250.1h1L1166.2 1247.0h1L1167.2 1247.3h1L1168.2 1246.6h1L1169.2 1252.5h1L1170.2 1251.9h1L1171.2 1250.0h1L1172.2 1250.2h1L1173.2 1249.1h1L1174.2 1251.3h1L1175.2 1252.8h1L1176.2 1254.0h1L1177.2 1255.6h1L1178.2 1253.6h1L1179.2 1252.0h1L1180.2 1251.1h1L1181.2 1250.8h1L1182.2 1249.7h1L1183.2 1249.1h1L1184.2 1243.4h1L1185.2 1243.5h1L1186.2 1252.4h1L1187.2 1253.1h1L1188.2 1250.3h1L1189.2 1249.4h1L1190.2 1251.1h1L1191.2 1253.6h1L1192.2 1255.6h1L1193.2 1256.1h1L1194.2 1258.2h1L1195.2 1259.4h1L1196.2 1260.1h1L1197.2 1259.1h1L1198.2 1258.7h1L1199.2 1259.9h1L1200.2 1259.4h1L1201.2 1251.8h1L1202.2 1253.9h1L1203.2 1253.8h1L1204.2 1254.2h1L1205.2 1254.1h1L1206.2 1254.1h1L1207.2 1252.5h1L1208.2 1254.4h1L1209.2 1254.6h1L1210.2 1255.4h1L1211.2 1255.8h1L1212.2 1253.6h1L1213.2 1254.2h1L1214.2 1253.6h1L1215.2 1253.3h1L1216.2 1255.7h1L1217.2 1246.5h1L1218.2 1250.4h1L1219.2 1249.4h1L1220.2 1248.8h1L1221.2 1244.2h1L1222.2 1241.3h1L1223.2 1241.5h1L1224.2 1247.8h1L1225.2 1248.1h1L1226.2 1248.1h1L1227.2 1248.6h1L1228.2 1244.4h1L1229.2 1244.5h1L1230.2 1250.3h1L1231.2 1245.5h1L1232.2 1246.8h1L1233.2 1247.7h1L1234.2 1247.4h1L1235.2 1247.1h1L1236.2 1248.1h1L1237.2 1244.8h1L1238.2 1244.6h1L1239.2 1246.2h1L1240.2 1254.3h1L1241.2 1251.0h1L1242.2 1251.5h1L1243.2 1251.1h1L1244.2 1250.8h1L1245.2 1251.9h1L1246.2 1253.4h1L1247.2 1257.0h1L1248.2 1254.8h1L1249.2 1261.1h1L1250.2 1261.9h1L1251.2 1263.1h1L1252.2 1264.0h1L1253.2 1263.4h1L1254.2 1264.7h1L1255.2 1264.9h1L1256.2 1261.9h1L1257.2 1263.6h1L1258.2 1262.2h1L1259.2 1261.7h1L1260.2 1259.2h1L1261.2 1258.5h1L1262.2 1258.3h1L1263.2 1255.9h1L1264.2 1256.0h1L1265.2 1252.3h1L1266.2 1257.8h1L1267.2 1257.2h1L1268.2 1253.6h1L1269.2 1256.3h1L1270.2 1256.6h1L1271.2 1253.8h1L1272.2 1253.9h1L1273.2 1254.4h1L1274.2 1254.3h1L1275.2 1255.2h1L1276.2 1258.6h1L1277.2 1261.5h1L1278.2 1262.6h1L1279.2 1261.6h1L1280.2 1263.0h1L1281.2 1263.4h1L1282.2 1262.9h1L1283.2 1260.1h1L1284.2 1260.2h1L1285.2 1261.0h1L1286.2 1265.6h1L1287.2 1265.2h1L1288.2 1265.2h1L1289.2 1265.3h1L1290.2 1265.3h1L1291.2 1266.3h1L1292.2 1266.7h1L1293.2 1264.2h1L1294.2 1263.7h1L1295.2 1263.7h1L1296.2 1267.4h1L1297.2 1267.7h1L1298.2 1263.5h1L1299.2 1264.0h1L1300.2 1263.6h1L1301.2 1266.7h1L1302.2 1265.1h1L1303.2 1268.5h1L1304.2 1267.9h1L1305.2 1267.0h1L1306.2 1266.7h1L1307.2 1266.5h1L1308.2 1266.4h1L1309.2 1266.3h1L1310.2 1267.0h1L1311.2 1267.2h1L1312.2 1267.4h1L1313.2 1267.2h1L1314.2 1267.9h1L1315.2 1265.2h1L1316.2 1265.9h1L1317.2 1266.5h1L1318.2 1269.0h1L1319.2 1269.5h1L1320.2 1269.6h1L1321.2 1267.3h1L1322.2 1270.9h1L1323.2 1271.0h1L1324.2 1269.9h1L1325.2 1271.6h1L1326.2 1271.5h1L1327.2 1273.0h1L1328.2 1274.2h1L1329.2 1274.5h1L1330.2 1274.3h1L1331.2 1275.0h1L1332.2 1276.7h1L1333.2 1277.5h1L1334.2 1278.0h1L1335.2 1278.7h1L1336.2 1277.3h1L1337.2 1276.6h1L1338.2 1276.3h1L1339.2 1272.7h1L1340.2 1272.1h1L1341.2 1270.8h1L1342.2 1270.4h1L1343.2 1273.2h1L1344.2 1273.1h1L1345.2 1272.7h1L1346.2 1271.8h1L1347.2 1272.0h1L1348.2 1271.6h1L1349.2 1271.9h1L1350.2 1271.7h1L1351.2 1272.0h1L1352.2 1272.6h1L1353.2 1271.2h1L1354.2 1271.3h1L1355.2 1271.0h1L1356.2 1271.7h1L1357.2 1271.5h1L1358.2 1270.4h1L1359.2 1272.1h1L1360.2 1271.5h1L1361.2 1271.5h1L1362.2 1271.6h1L1363.2 1268.0h1L1364.2 1268.9h1L1365.2 1268.9h1L1366.2 1272.5h1L1367.2 1272.4h1L1368.2 1273.2h1L1369.2 1274.3h1L1370.2 1274.1h1L1371.2 1272.1h1L1372.2 1272.3h1L1373.2 1275.0h1L1374.2 1275.2h1L1375.2 1275.4h1L1376.2 1273.3h1L1377.2 1274.8h1L1378.2 1276.7h1L1379.2 1277.4h1L1380.2 1272.8h1L1381.2 1273.4h1L1382.2 1277.3h1L1383.2 1276.6h1L1384.2 1275.3h1L1385.2 1274.8h1L1386.2 1275.1h1L1387.2 1273.7h1L1388.2 1272.8h1L1389.2 1273.5h1L1390.2 1274.1h1L1391.2 1274.7h1L1392.2 1275.8h1L1393.2 1273.7h1L1394.2 1273.1h1L1395.2 1272.2h1L1396.2 1271.0h1L1397.2 1273.2h1L1398.2 1270.8h1L1399.2 1269.2h1L1400.2 1268.9h1L1401.2 1269.6h1L1402.2 1269.3h1L1403.2 1268.9h1L1404.2 1271.1h1L1405.2 1271.6h1L1406.2 1269.1h1L1407.2 1271.0h1L1408.2 1271.0h1L1409.2 1272.0h1L1410.2 1272.9h1L1411.2 1274.8h1L1412.2 1277.8h1L1413.2 1278.5h1L1414.2 1278.1h1L1415.2 1279.4h1L1416.2 1280.3h1L1417.2 1281.7h1L1418.2 1283.4h1L1419.2 1285.8h1L1420.2 1287.4h1L1421.2 1289.1h1L1422.2 1289.2h1L1423.2 1291.3h1L1424.2 1293.4h1L1425.2 1296.0h1L1426.2 1296.8h1L1427.2 1297.7h1L1428.2 1297.4h1L1429.2 1298.5h1L1430.2 1301.0h1L1431.2 1299.4h1L1432.2 1300.7h1L1433.2 1300.9h1L1434.2 1301.0h1L1435.2 1301.2h1L1436.2 1301.3h1L1437.2 1301.5h1L1438.2 1301.7h1L1439.2 1301.8h1L1440.2 1301.9h1L1441.2 1301.9h1L1442.2 1301.9h1L1443.2 1301.9h1L1444.2 1302.0h1L1445.2 1302.0h1L1446.2 1302.0h1L1447.2 1302.0h1L1448.2 1302.0h1L1449.2 1302.1h1L1450.2 1302.1h1L1451.2 1302.1h1L1452.2 1302.1h1L1453.2 1302.2h1L1454.2 1302.2h1L1455.2 1302.2h1L1456.2 1302.2h1L1457.2 1302.2h1L1458.2 1302.3h1L1459.2 1302.3h1L1460.2 1302.3h1L1461.2 1302.3h1L1462.2 1302.4h1L1463.2 1302.4h1L1464.2 1302.4h1L1465.2 1302.4h1L1466.2 1302.4h1L1467.2 1302.5h1L1468.2 1302.5h1L1469.2 1302.5h1L1470.2 1302.5h1L1471.2 1302.6h1L1472.2 1302.6h1L1473.2 1302.6h1L1474.2 1302.6h1L1475.2 1302.6h1L1476.2 1302.7h1L1477.2 1301.8h1L1478.2 1300.8h1L1479.2 1300.1h1L1480.2 1299.2h1L1481.2 1299.1h1L1482.2 1298.6h1L1483.2 1298.0h1L1484.2 1297.2h1L1485.2 1294.2h1L1486.2 1290.4h1L1487.2 1287.6h1L1488.2 1284.3h1L1489.2 1281.8h1L1490.2 1278.8h1L1491.2 1272.9h1L1492.2 1270.5h1L1493.2 1271.7h1L1494.2 1271.1h1L1495.2 1268.5h1L1496.2 1267.7h1L1497.2 1267.2h1L1498.2 1265.8h1L1499.2 1264.5h1L1500.2 1263.3h1L1501.2 1265.4h1L1502.2 1264.8h1L1503.2 1266.1h1L1504.2 1263.2h1L1505.2 1262.2h1L1506.2 1262.2h1L1507.2 1260.8h1L1508.2 1262.1h1L1509.2 1264.7h1L1510.2 1264.6h1L1511.2 1266.5h1L1512.2 1266.8h1L1513.2 1268.2h1L1514.2 1268.6h1L1515.2 1269.8h1L1516.2 1271.6h1L1517.2 1273.4h1L1518.2 1272.6h1L1519.2 1271.5h1L1520.2 1265.6h1L1521.2 1265.2h1L1522.2 1266.8h1L1523.2 1268.2h1L1524.2 1267.4h1L1525.2 1262.6h1L1526.2 1263.1h1L1527.2 1266.0h1L1528.2 1264.7h1L1529.2 1266.5h1L1530.2 1266.8h1L1531.2 1266.8h1L1532.2 1266.1h1L1533.2 1265.0h1L1534.2 1261.4h1L1535.2 1267.1h1L1536.2 1265.2h1L1537.2 1265.0h1L1538.2 1259.3h1L1539.2 1263.5h1L1540.2 1262.8h1L1541.2 1261.7h1L1542.2 1261.6h1L1543.2 1263.3h1L1544.2 1264.0h1L1545.2 1261.4h1L1546.2 1261.2h1L1547.2 1260.8h1L1548.2 1260.2h1L1549.2 1260.7h1L1550.2 1261.1h1L1551.2 1260.7h1L1552.2 1262.9h1L1553.2 1262.6h1L1554.2 1260.2h1L1555.2 1257.2h1L1556.2 1256.4h1L1557.2 1260.9h1L1558.2 1260.8h1L1559.2 1260.5h1L1560.2 1260.6h1L1561.2 1263.3h1L1562.2 1259.6h1L1563.2 1261.9h1L1564.2 1262.0h1L1565.2 1261.5h1L1566.2 1263.5h1L1567.2 1260.1h1L1568.2 1259.6h1L1569.2 1260.0h1L1570.2 1258.1h1L1571.2 1258.9h1L1572.2 1264.5h1L1573.2 1264.2h1L1574.2 1261.5h1L1575.2 1261.1h1L1576.2 1260.7h1L1577.2 1259.0h1L1578.2 1260.3h1L1579.2 1259.9h1L1580.2 1261.4h1L1581.2 1259.7h1L1582.2 1260.9h1L1583.2 1265.6h1L1584.2 1266.0h1L1585.2 1265.2h1L1586.2 1262.1h1L1587.2 1260.0h1L1588.2 1260.4h1L1589.2 1260.4h1L1590.2 1259.8h1L1591.2 1258.9h1L1592.2 1258.3h1L1593.2 1257.6h1L1594.2 1261.1h1L1595.2 1260.7h1L1596.2 1257.4h1L1597.2 1257.1h1L1598.2 1255.8h1L1599.2 1258.3h1L1600.2 1258.9h1L1601.2 1258.7h1L1602.2 1258.5h1L1603.2 1259.2h1L1604.2 1259.5h1L1605.2 1259.8h1L1606.2 1260.8h1L1607.2 1262.0h1L1608.2 1262.6h1L1609.2 1263.3h1L1610.2 1263.6h1L1611.2 1264.0h1L1612.2 1267.8h1L1613.2 1264.4h1L1614.2 1263.7h1L1615.2 1265.2h1L1616.2 1264.6h1L1617.2 1264.7h1L1618.2 1264.1h1L1619.2 1265.1h1L1620.2 1260.6h1L1621.2 1261.5h1L1622.2 1262.4h1L1623.2 1262.7h1L1624.2 1265.5h1L1625.2 1264.6h1L1626.2 1263.6h1L1627.2 1262.5h1L1628.2 1259.8h1L1629.2 1258.6h1L1630.2 1259.6h1L1631.2 1258.8h1L1632.2 1257.8h1L1633.2 1255.7h1L1634.2 1254.5h1L1635.2 1252.7h1L1636.2 1254.6h1L1637.2 1256.2h1L1638.2 1257.5h1L1639.2 1259.9h1L1640.2 1257.6h1L1641.2 1260.2h1L1642.2 1261.6h1L1643.2 1263.6h1L1644.2 1263.1h1L1645.2 1262.5h1L1646.2 1259.6h1L1647.2 1258.8h1L1648.2 1257.2h1L1649.2 1255.8h1L1650.2 1258.3h1L1651.2 1258.9h1L1652.2 1255.8h1L1653.2 1251.9h1L1654.2 1251.5h1L1655.2 1251.5h1L1656.2 1257.0h1L1657.2 1254.5h1L1658.2 1255.3h1L1659.2 1256.8h1L1660.2 1258.7h1L1661.2 1256.3h1L1662.2 1261.7h1L1663.2 1262.1h1L1664.2 1260.8h1L1665.2 1260.8h1L1666.2 1261.8h1L1667.2 1262.4h1L1668.2 1262.6h1L1669.2 1260.9h1L1670.2 1259.2h1L1671.2 1258.4h1L1672.2 1254.7h1L1673.2 1253.4h1L1674.2 1254.5h1L1675.2 1255.0h1L1676.2 1252.7h1L1677.2 1254.9h1L1678.2 1253.9h1L1679.2 1252.5h1L1680.2 1254.0h1L1681.2 1252.4h1L1682.2 1250.1h1L1683.2 1252.3h1L1684.2 1252.3h1L1685.2 1252.2h1L1686.2 1251.3h1L1687.2 1252.2h1L1688.2 1251.3h1L1689.2 1244.8h1L1690.2 1249.3h1L1691.2 1249.6h1L1692.2 1250.5h1L1693.2 1245.5h1L1694.2 1246.8h1L1695.2 1251.6h1L1696.2 1249.8h1L1697.2 1245.6h1L1698.2 1244.7h1L1699.2 1244.8h1L1700.2 1244.7h1L1701.2 1245.7h1L1702.2 1248.2h1L1703.2 1247.8h1L1704.2 1248.7h1L1705.2 1247.2h1L1706.2 1247.4h1L1707.2 1303.5h1L1708.2 1303.5h1L1709.2 1303.5h1L1710.2 1303.5h1L1711.2 1303.5h1L1712.2 1303.5h1L1713.2 1303.5h1L1714.2 1303.5h1L1715.2 1303.5h1L1716.2 1303.5h1L1717.2 1303.5h1L1718.2 1303.5h1L1719.2 1303.5h1L1720.2 1303.5h1L1721.2 1303.5h1L1722.2 1303.5h1L1723.2 1303.5h1L1724.2 1303.5h1L1725.2 1300.3h1L1726.2 1241.7h1L1727.2 1242.1h1L1728.2 1241.9h1L1729.2 1242.0h1L1730.2 1242.1h1L1731.2 1241.6h1L1732.2 1237.8h1L1733.2 1237.9h1L1734.2 1237.9h1L1735.2 1239.6h1L1736.2 1239.1h1L1737.2 1240.4h1L1738.2 1240.8h1L1739.2 1238.4h1L1740.2 1238.4h1L1741.2 1238.2h1L1742.2 1238.8h1L1743.2 1240.2h1L1744.2 1240.4h1L1745.2 1239.8h1L1746.2 1240.7h1L1747.2 1236.3h1L1748.2 1240.5h1L1749.2 1233.9h1L1750.2 1234.9h1L1751.2 1242.2h1L1752.2 1242.4h1L1753.2 1242.8h1L1754.2 1242.8h1L1755.2 1238.5h1L1756.2 1240.5h1L1757.2 1239.4h1L1758.2 1239.0h1L1759.2 1238.2h1L1760.2 1237.5h1L1761.2 1237.6h1L1762.2 1236.3h1L1763.2 1240.2h1L1764.2 1236.1h1L1765.2 1239.4h1L1766.2 1238.2h1L1767.2 1237.4h1L1768.2 1232.3h1L1769.2 1232.4h1L1770.2 1232.4h1L1771.2 1236.4h1L1772.2 1233.0h1L1773.2 1233.4h1L1774.2 1232.8h1L1775.2 1232.9h1L1776.2 1230.9h1L1777.2 1233.8h1L1778.2 1228.5h1L1779.2 1229.1h1L1780.2 1228.0h1L1781.2 1228.2h1L1782.2 1229.5h1L1783.2 1220.5h1L1784.2 1217.9h1L1785.2 1220.1h1L1786.2 1222.3h1L1787.2 1223.3h1L1788.2 1224.8h1L1789.2 1229.2h1L1790.2 1221.6h1L1791.2 1221.5h1L1792.2 1218.6h1L1793.2 1208.9h1L1794.2 1206.9h1L1795.2 1209.8h1L1796.2 1213.4h1L1797.2 1210.6h1L1798.2 1217.8h1L1799.2 1218.2h1L1800.2 1215.7h1L1801.2 1216.2h1L1802.2 1217.0h1L1803.2 1214.0h1L1804.2 1213.5h1L1805.2 1212.7h1L1806.2 1214.4h1L1807.2 1213.8h1L1808.2 1213.5h1L1809.2 1210.0h1L1810.2 1209.0h1L1811.2 1209.7h1L1812.2 1213.4h1L1813.2 1214.0h1L1814.2 1217.8h1L1815.2 1213.9h1L1816.2 1215.0h1L1817.2 1214.0h1L1818.2 1221.5h1L1819.2 1222.6h1L1820.2 1224.4h1L1821.2 1222.4h1L1822.2 1221.9h1L1823.2 1223.5h1L1824.2 1222.1h1L1825.2 1223.5h1L1826.2 1224.2h1L1827.2 1224.7h1L1828.2 1224.8h1L1829.2 1224.2h1L1830.2 1227.1h1L1831.2 1224.7h1L1832.2 1224.5h1L1833.2 1224.5h1L1834.2 1222.3h1L1835.2 1220.9h1L1836.2 1220.4h1L1837.2 1218.0h1L1838.2 1215.7h1L1839.2 1215.1h1L1840.2 1208.2h1L1841.2 1215.4h1L1842.2 1206.1h1L1843.2 1204.2h1L1844.2 1203.7h1L1845.2 1199.6h1L1846.2 1198.3h1L1847.2 1202.4h1L1848.2 1202.1h1L1849.2 1199.9h1L1850.2 1199.1h1L1851.2 1205.1h1L1852.2 1204.5h1L1853.2 1205.3h1L1854.2 1208.0h1L1855.2 1204.4h1L1856.2 1205.2h1L1857.2 1205.0h1L1858.2 1205.1h1L1859.2 1201.6h1L1860.2 1208.8h1L1861.2 1211.7h1L1862.2 1211.5h1L1863.2 1209.9h1L1864.2 1213.2h1L1865.2 1209.2h1L1866.2 1209.1h1L1867.2 1200.9h1L1868.2 1211.4h1L1869.2 1211.8h1L1870.2 1213.1h1L1871.2 1213.7h1L1872.2 1214.5h1L1873.2 1212.0h1L1874.2 1207.3h1L1875.2 1204.4h1L1876.2 1211.3h1L1877.2 1210.8h1L1878.2 1212.9h1L1879.2 1213.8h1L1880.2 1213.0h1L1881.2 1215.4h1L1882.2 1217.6h1L1883.2 1216.0h1L1884.2 1211.3h1L1885.2 1208.4h1L1886.2 1206.6h1L1887.2 1205.9h1L1888.2 1205.4h1L1889.2 1206.9h1L1890.2 1205.4h1L1891.2 1202.5h1L1892.2 1203.0h1L1893.2 1204.1h1L1894.2 1204.2h1L1895.2 1201.0h1L1896.2 1203.6h1L1897.2 1199.8h1L1898.2 1195.2h1L1899.2 1206.1h1L1900.2 1206.6h1L1901.2 1198.3h1L1902.2 1199.1h1L1903.2 1197.7h1L1904.2 1203.8h1L1905.2 1201.3h1L1906.2 1199.1h1L1907.2 1197.2h1L1908.2 1201.4h1L1909.2 1203.3h1L1910.2 1202.5h1L1911.2 1201.1h1L1912.2 1204.0h1L1913.2 1207.6h1L1914.2 1212.3h1L1915.2 1212.8h1L1916.2 1210.7h1L1917.2 1210.1h1L1918.2 1208.3h1L1919.2 1208.0h1L1920.2 1205.4h1L1921.2 1206.5h1L1922.2 1209.1h1L1923.2 1210.8h1L1924.2 1221.8h1L1925.2 1224.1h1L1926.2 1223.6h1L1927.2 1227.9h1L1928.2 1229.8h1L1929.2 1235.7h1L1930.2 1237.7h1L1931.2 1240.0h1L1932.2 1242.0h1L1933.2 1242.1h1L1934.2 1240.8h1L1935.2 1238.6h1L1936.2 1237.3h1L1937.2 1237.4h1L1938.2 1240.2h1L1939.2 1240.0h1L1940.2 1241.7h1L1941.2 1243.6h1L1942.2 1243.2h1L1943.2 1242.9h1L1944.2 1242.0h1L1945.2 1245.1h1L1946.2 1245.5h1L1947.2 1242.8h1L1948.2 1241.5h1L1949.2 1240.1h1L1950.2 1237.4h1L1951.2 1236.7h1L1952.2 1233.3h1L1953.2 1232.6h1L1954.2 1232.7h1L1955.2 1233.4h1L1956.2 1234.9h1L1957.2 1238.0h1L1958.2 1241.5h1L1959.2 1244.1h1L1960.2 1247.8h1L1961.2 1245.5h1L1962.2 1247.7h1L1963.2 1249.8h1L1964.2 1251.0h1L1965.2 1254.0h1L1966.2 1255.8h1L1967.2 1259.4h1L1968.2 1259.5h1L1969.2 1259.1h1L1970.2 1257.1h1L1971.2 1256.8h1L1972.2 1256.9h1L1973.2 1260.3h1L1974.2 1260.7h1L1975.2 1262.8h1L1976.2 1264.8h1L1977.2 1267.3h1L1978.2 1270.7h1L1979.2 1269.8h1L1980.2 1271.3h1L1981.2 1271.8h1L1982.2 1273.4h1L1983.2 1273.7h1L1984.2 1274.7h1L1985.2 1276.4h1L1986.2 1278.6h1L1987.2 1279.2h1L1988.2 1281.5h1L1989.2 1283.1h1L1990.2 1285.8h1L1991.2 1287.1h1L1992.2 1288.7h1L1993.2 1289.4h1L1994.2 1290.3h1L1995.2 1291.4h1L1996.2 1292.2h1L1997.2 1294.6h1L1998.2 1293.0h1L1999.2 1293.3h1L2000.2 1294.5h1L2001.2 1294.8h1L2002.2 1294.6h1L2003.2 1294.9h1L2004.2 1294.4h1L2005.2 1294.2h1L2006.2 1293.0h1L2007.2 1292.7h1L2008.2 1292.4h1L2009.2 1292.2h1L2010.2 1292.0h1L2011.2 1293.5h1L2012.2 1291.5h1L2013.2 1292.5h1L2014.2 1292.0h1L2015.2 1292.4h1L2016.2 1292.5h1L2017.2 1291.0h1L2018.2 1292.9h1L2019.2 1291.5h1L2020.2 1292.0h1L2021.2 1294.2h1L2022.2 1293.9h1L2023.2 1293.7h1L2024.2 1293.6h1L2025.2 1293.2h1L2026.2 1292.4h1L2027.2 1289.8h1L2028.2 1288.1h1L2029.2 1287.5h1L2030.2 1286.3h1L2031.2 1283.5h1L2032.2 1281.9h1L2033.2 1279.5h1L2034.2 1276.2h1L2035.2 1274.2h1L2036.2 1272.4h1L2037.2 1303.6Z" fill="#D3D3D3"/>
<line x1="927.80" y1="1191.65" x2="927.80" y2="1304.45" stroke="#000" stroke-width="1.5" />
<line x1="919.00" y1="1192.40" x2="927.80" y2="1192.40" stroke="#000" stroke-width="1.5" />
<line x1="919.00" y1="1202.70" x2="927.80" y2="1202.70" stroke="#000" stroke-width="1.5" />
<line x1="919.00" y1="1223.00" x2="927.80" y2="1223.00" stroke="#000" stroke-width="1.5" />
<line x1="919.00" y1="1243.40" x2="927.80" y2="1243.40" stroke="#000" stroke-width="1.5" />
<line x1="919.00" y1="1263.40" x2="927.80" y2="1263.40" stroke="#000" stroke-width="1.5" />
<line x1="919.00" y1="1283.30" x2="927.80" y2="1283.30" stroke="#000" stroke-width="1.5" />
<line x1="919.00" y1="1303.70" x2="927.80" y2="1303.70" stroke="#000" stroke-width="1.5" />
<text transform="translate(873.97,1226.50) scale(1.0838,1.0000)" font-family='"DejaVu Sans", "Liberation Sans", sans-serif' font-size="20.80" fill="#000" >800</text>
<text transform="translate(874.41,1268.20) scale(1.0723,1.0000)" font-family='"DejaVu Sans", "Liberation Sans", sans-serif' font-size="20.80" fill="#000" >400</text>
<text transform="translate(902.72,1309.70) scale(1.0781,1.0000)" font-family='"DejaVu Sans", "Liberation Sans", sans-serif' font-size="20.80" fill="#000" >0</text>
<text transform="translate(863.40,1271.77) rotate(-90) scale(0.9511,1)" font-family='"DejaVu Sans", "Liberation Sans", sans-serif' font-size="22.20" fill="#000">depth</text>
<path d="M968.10 1284.40A12.55 74.00 0 0 1 993.20 1284.40" fill="none" stroke="#FACDD5" stroke-width="7.2" stroke-opacity="1.0"/>
<path d="M968.10 1284.40A12.55 74.00 0 0 1 993.20 1284.40" fill="none" stroke="#DCCBF0" stroke-width="2.6" stroke-opacity="1.0"/>
<path d="M1125.40 1284.40A68.55 74.40 0 0 1 1262.50 1284.40" fill="none" stroke="#FFD4D4" stroke-width="1.0" stroke-opacity="1.0"/>
<path d="M1273.10 1284.40A15.40 74.60 0 0 1 1303.90 1284.40" fill="none" stroke="#D9BFF0" stroke-width="1.5" stroke-opacity="1.0"/>
<path d="M1365.90 1284.40A10.45 74.60 0 0 1 1386.80 1284.40" fill="none" stroke="#FFCFCF" stroke-width="1.9" stroke-opacity="1.0"/>
<path d="M1707.20 1284.40A8.70 74.20 0 0 1 1724.60 1284.40" fill="none" stroke="#D6C9F0" stroke-width="6.2" stroke-opacity="1.0"/>
<path d="M1707.60 1284.40A11.80 75.20 0 0 1 1731.20 1284.40" fill="none" stroke="#CDCDFB" stroke-width="1.0" stroke-opacity="1.0"/>
<path d="M1819.10 1284.40A10.55 74.40 0 0 1 1840.20 1284.40" fill="none" stroke="#FFD0D0" stroke-width="1.0" stroke-opacity="1.0"/>
<path d="M1826.90 1284.40A386.50 74.40 0 0 1 2599.90 1284.40" fill="none" stroke="#CFCFFB" stroke-width="1.0" stroke-opacity="1.0" clip-path="url(#clp2)"/>
<path d="M1988.50 1284.40A12.15 74.40 0 0 1 2012.80 1284.40" fill="none" stroke="#FFCCCC" stroke-width="1.3" stroke-opacity="1.0"/>
<rect x="781.50" y="1321.70" width="1261.90" height="38.90" fill="#D9FFF6" />
<text font-family='"DejaVu Sans", "Liberation Sans", sans-serif' fill="#000" ><tspan x="1272.27" y="1348.60" font-size="24.80" textLength="178.39" lengthAdjust="spacingAndGlyphs" font-style="italic">M. superbum</tspan> <tspan x="1459.70" y="1348.60" font-size="24.80" textLength="31.88" lengthAdjust="spacingAndGlyphs">6P</tspan> <tspan x="1502.36" y="1348.60" font-size="24.80" textLength="10.62" lengthAdjust="spacingAndGlyphs">(</tspan><tspan x="1514.27" y="1348.60" font-size="24.80" textLength="17.64" lengthAdjust="spacingAndGlyphs">a</tspan><tspan x="1531.83" y="1353.30" font-size="15.60" textLength="9.09" lengthAdjust="spacingAndGlyphs">1</tspan><tspan x="1543.34" y="1348.60" font-size="24.80" textLength="11.49" lengthAdjust="spacingAndGlyphs">)</tspan></text>
<text transform="translate(1382.67,1388.00) scale(1.0188,1.0000)" font-family='"DejaVu Sans", "Liberation Sans", sans-serif' font-size="21.40" font-weight="bold" fill="#000" >position</text>
<text transform="translate(772.26,1440.40) scale(1.0184,1.0000)" font-family='"DejaVu Sans", "Liberation Sans", sans-serif' font-size="21.40" font-weight="bold" fill="#000" >contig 150</text>
<path d="M917.00 1431.20V1435.50M946.97 1431.20V1435.50M1006.91 1431.20V1435.50M1036.88 1431.20V1435.50M1066.85 1431.20V1435.50M1096.82 1431.20V1435.50M1126.79 1431.20V1435.50M1156.76 1431.20V1435.50M1186.73 1431.20V1435.50M1216.70 1431.20V1435.50M1246.67 1431.20V1435.50M1306.61 1431.20V1435.50M1336.58 1431.20V1435.50M1366.55 1431.20V1435.50M1396.52 1431.20V1435.50M1426.49 1431.20V1435.50M1456.46 1431.20V1435.50M1486.43 1431.20V1435.50M1516.40 1431.20V1435.50M1546.37 1431.20V1435.50M1606.31 1431.20V1435.50M1636.28 1431.20V1435.50M1666.25 1431.20V1435.50M1696.22 1431.20V1435.50M1726.19 1431.20V1435.50M1756.16 1431.20V1435.50M1786.13 1431.20V1435.50M1816.10 1431.20V1435.50M1846.07 1431.20V1435.50M1906.01 1431.20V1435.50M1935.98 1431.20V1435.50M1965.95 1431.20V1435.50M1995.92 1431.20V1435.50M2025.89 1431.20V1435.50" stroke="#111" stroke-width="1.4" fill="none"/>
<path d="M976.40 1421.60V1437.30M1276.50 1421.60V1437.30M1576.20 1421.60V1437.30M1875.90 1421.60V1437.30" stroke="#000" stroke-width="1.9" fill="none"/>
<text transform="translate(972.78,1416.20) scale(1.0661,1.0000)" font-family='"DejaVu Sans", "Liberation Sans", sans-serif' font-size="20.80" fill="#000" >286,000</text>
<text transform="translate(1272.28,1416.20) scale(1.0661,1.0000)" font-family='"DejaVu Sans", "Liberation Sans", sans-serif' font-size="20.80" fill="#000" >287,000</text>
<text transform="translate(1572.48,1416.20) scale(1.0661,1.0000)" font-family='"DejaVu Sans", "Liberation Sans", sans-serif' font-size="20.80" fill="#000" >288,000</text>
<text transform="translate(1872.68,1416.20) scale(1.0661,1.0000)" font-family='"DejaVu Sans", "Liberation Sans", sans-serif' font-size="20.80" fill="#000" >289,000</text>
<rect x="1075.20" y="1456.00" width="398.50" height="11.00" fill="#00755E" />
<line x1="1069.50" y1="1461.50" x2="1075.20" y2="1461.50" stroke="#000" stroke-width="1.7" />
<path d="M1066.50 1461.50l6.2 -4.3v8.6z" fill="#000"/>
<line x1="1602.80" y1="1461.50" x2="1622.90" y2="1461.50" stroke="#111" stroke-width="1.3" />
<rect x="1517.60" y="1456.00" width="85.20" height="11.00" fill="#00DDB3" />
<rect x="1622.90" y="1456.00" width="15.00" height="11.00" fill="#00DDB3" />
<line x1="1637.90" y1="1461.50" x2="1643.70" y2="1461.50" stroke="#000" stroke-width="1.7" />
<path d="M1646.70 1461.50l-6.2 -4.3v8.6z" fill="#000"/>
<rect x="1747.50" y="1456.00" width="111.20" height="11.00" fill="#00755E" />
<line x1="1858.70" y1="1461.50" x2="1864.20" y2="1461.50" stroke="#000" stroke-width="1.7" />
<path d="M1867.20 1461.50l-6.2 -4.3v8.6z" fill="#000"/>
<rect x="1928.90" y="1456.00" width="78.10" height="11.00" fill="#DAA520" />
<line x1="1922.80" y1="1461.50" x2="1928.90" y2="1461.50" stroke="#000" stroke-width="1.7" />
<path d="M1919.80 1461.50l6.2 -4.3v8.6z" fill="#000"/>
<text transform="translate(1074.60,1488.00) scale(1.0449,1.0000)" font-family='"DejaVu Sans", "Liberation Sans", sans-serif' font-size="20.80" fill="#000" >g1041</text>
<text transform="translate(1517.68,1487.60) scale(1.0587,1.0000)" font-family='"DejaVu Sans", "Liberation Sans", sans-serif' font-size="20.80" fill="#000" >g1042</text>
<text transform="translate(1747.28,1487.60) scale(1.0628,1.0000)" font-family='"DejaVu Sans", "Liberation Sans", sans-serif' font-size="20.80" fill="#000" >g1043</text>
<path d="M988.4 1617.1L988.4 1616.7h1L989.4 1616.6h1L990.4 1616.6h1L991.4 1616.5h1L992.4 1616.5h1L993.4 1616.5h1L994.4 1616.4h1L995.4 1616.4h1L996.4 1616.4h1L997.4 1616.3h1L998.4 1616.3h1L999.4 1616.2h1L1000.4 1616.2h1L1001.4 1616.2h1L1002.4 1616.1h1L1003.4 1616.1h1L1004.4 1616.1h1L1005.4 1615.9h1L1006.4 1615.7h1L1007.4 1615.5h1L1008.4 1615.3h1L1009.4 1615.1h1L1010.4 1614.9h1L1011.4 1614.7h1L1012.4 1614.5h1L1013.4 1614.3h1L1014.4 1614.1h1L1015.4 1614.2h1L1016.4 1614.1h1L1017.4 1613.5h1L1018.4 1612.4h1L1019.4 1611.3h1L1020.4 1610.1h1L1021.4 1609.0h1L1022.4 1607.9h1L1023.4 1606.8h1L1024.4 1606.5h1L1025.4 1604.7h1L1026.4 1603.9h1L1027.4 1603.9h1L1028.4 1603.6h1L1029.4 1603.4h1L1030.4 1602.5h1L1031.4 1602.3h1L1032.4 1602.1h1L1033.4 1601.8h1L1034.4 1600.7h1L1035.4 1600.4h1L1036.4 1601.0h1L1037.4 1600.5h1L1038.4 1599.9h1L1039.4 1599.5h1L1040.4 1598.5h1L1041.4 1597.4h1L1042.4 1598.0h1L1043.4 1597.1h1L1044.4 1597.7h1L1045.4 1597.3h1L1046.4 1596.3h1L1047.4 1595.2h1L1048.4 1595.5h1L1049.4 1594.9h1L1050.4 1593.7h1L1051.4 1594.5h1L1052.4 1593.7h1L1053.4 1593.2h1L1054.4 1592.9h1L1055.4 1592.2h1L1056.4 1593.4h1L1057.4 1593.7h1L1058.4 1593.7h1L1059.4 1593.9h1L1060.4 1593.7h1L1061.4 1591.1h1L1062.4 1588.4h1L1063.4 1585.4h1L1064.4 1585.3h1L1065.4 1584.9h1L1066.4 1585.5h1L1067.4 1585.3h1L1068.4 1584.6h1L1069.4 1583.4h1L1070.4 1581.5h1L1071.4 1580.8h1L1072.4 1579.4h1L1073.4 1578.0h1L1074.4 1577.2h1L1075.4 1576.4h1L1076.4 1575.5h1L1077.4 1574.9h1L1078.4 1571.2h1L1079.4 1565.6h1L1080.4 1560.1h1L1081.4 1557.4h1L1082.4 1552.7h1L1083.4 1551.6h1L1084.4 1548.1h1L1085.4 1548.2h1L1086.4 1549.4h1L1087.4 1549.2h1L1088.4 1548.6h1L1089.4 1546.4h1L1090.4 1544.8h1L1091.4 1545.6h1L1092.4 1545.2h1L1093.4 1544.3h1L1094.4 1543.2h1L1095.4 1542.7h1L1096.4 1541.2h1L1097.4 1536.1h1L1098.4 1535.9h1L1099.4 1536.0h1L1100.4 1533.7h1L1101.4 1531.9h1L1102.4 1532.1h1L1103.4 1531.8h1L1104.4 1531.8h1L1105.4 1531.9h1L1106.4 1533.1h1L1107.4 1533.4h1L1108.4 1533.6h1L1109.4 1533.3h1L1110.4 1532.2h1L1111.4 1532.9h1L1112.4 1532.5h1L1113.4 1531.8h1L1114.4 1531.8h1L1115.4 1531.8h1L1116.4 1532.3h1L1117.4 1532.0h1L1118.4 1533.2h1L1119.4 1534.3h1L1120.4 1536.2h1L1121.4 1537.1h1L1122.4 1535.3h1L1123.4 1539.2h1L1124.4 1542.3h1L1125.4 1544.3h1L1126.4 1547.8h1L1127.4 1551.4h1L1128.4 1556.7h1L1129.4 1556.1h1L1130.4 1555.6h1L1131.4 1553.2h1L1132.4 1552.9h1L1133.4 1554.3h1L1134.4 1553.1h1L1135.4 1554.5h1L1136.4 1553.6h1L1137.4 1553.4h1L1138.4 1552.8h1L1139.4 1554.8h1L1140.4 1553.9h1L1141.4 1558.0h1L1142.4 1560.0h1L1143.4 1561.0h1L1144.4 1561.2h1L1145.4 1561.7h1L1146.4 1562.2h1L1147.4 1563.8h1L1148.4 1565.4h1L1149.4 1565.9h1L1150.4 1563.6h1L1151.4 1560.8h1L1152.4 1560.9h1L1153.4 1560.3h1L1154.4 1560.0h1L1155.4 1559.1h1L1156.4 1559.3h1L1157.4 1558.9h1L1158.4 1558.5h1L1159.4 1557.4h1L1160.4 1556.2h1L1161.4 1555.6h1L1162.4 1555.1h1L1163.4 1553.1h1L1164.4 1554.9h1L1165.4 1556.6h1L1166.4 1558.5h1L1167.4 1557.9h1L1168.4 1560.4h1L1169.4 1560.9h1L1170.4 1561.3h1L1171.4 1560.5h1L1172.4 1559.5h1L1173.4 1558.3h1L1174.4 1558.0h1L1175.4 1561.4h1L1176.4 1559.0h1L1177.4 1558.8h1L1178.4 1559.2h1L1179.4 1560.2h1L1180.4 1560.4h1L1181.4 1558.8h1L1182.4 1559.2h1L1183.4 1562.3h1L1184.4 1563.0h1L1185.4 1563.1h1L1186.4 1563.7h1L1187.4 1564.0h1L1188.4 1565.2h1L1189.4 1565.8h1L1190.4 1567.5h1L1191.4 1568.0h1L1192.4 1565.5h1L1193.4 1566.5h1L1194.4 1569.2h1L1195.4 1569.9h1L1196.4 1571.3h1L1197.4 1572.9h1L1198.4 1572.4h1L1199.4 1571.7h1L1200.4 1574.0h1L1201.4 1574.7h1L1202.4 1575.4h1L1203.4 1576.3h1L1204.4 1577.1h1L1205.4 1578.1h1L1206.4 1579.3h1L1207.4 1578.7h1L1208.4 1579.2h1L1209.4 1581.8h1L1210.4 1582.5h1L1211.4 1583.2h1L1212.4 1583.2h1L1213.4 1583.9h1L1214.4 1584.1h1L1215.4 1584.9h1L1216.4 1587.5h1L1217.4 1587.9h1L1218.4 1588.0h1L1219.4 1588.5h1L1220.4 1588.8h1L1221.4 1588.1h1L1222.4 1589.5h1L1223.4 1588.2h1L1224.4 1585.4h1L1225.4 1584.7h1L1226.4 1584.1h1L1227.4 1584.5h1L1228.4 1584.1h1L1229.4 1583.8h1L1230.4 1584.5h1L1231.4 1584.1h1L1232.4 1583.9h1L1233.4 1583.8h1L1234.4 1583.3h1L1235.4 1583.9h1L1236.4 1583.7h1L1237.4 1581.8h1L1238.4 1581.1h1L1239.4 1582.5h1L1240.4 1581.5h1L1241.4 1581.4h1L1242.4 1581.1h1L1243.4 1581.1h1L1244.4 1581.8h1L1245.4 1581.2h1L1246.4 1579.8h1L1247.4 1579.4h1L1248.4 1578.5h1L1249.4 1578.4h1L1250.4 1576.7h1L1251.4 1576.2h1L1252.4 1575.9h1L1253.4 1574.9h1L1254.4 1574.4h1L1255.4 1572.1h1L1256.4 1573.1h1L1257.4 1572.6h1L1258.4 1572.6h1L1259.4 1571.9h1L1260.4 1571.7h1L1261.4 1571.2h1L1262.4 1570.9h1L1263.4 1570.2h1L1264.4 1570.3h1L1265.4 1569.2h1L1266.4 1568.9h1L1267.4 1567.2h1L1268.4 1565.4h1L1269.4 1563.6h1L1270.4 1561.3h1L1271.4 1560.1h1L1272.4 1560.0h1L1273.4 1559.9h1L1274.4 1559.3h1L1275.4 1560.3h1L1276.4 1559.9h1L1277.4 1557.1h1L1278.4 1559.8h1L1279.4 1557.1h1L1280.4 1557.9h1L1281.4 1557.4h1L1282.4 1557.8h1L1283.4 1556.1h1L1284.4 1556.0h1L1285.4 1555.8h1L1286.4 1557.6h1L1287.4 1557.3h1L1288.4 1553.7h1L1289.4 1555.5h1L1290.4 1555.7h1L1291.4 1555.4h1L1292.4 1555.9h1L1293.4 1555.8h1L1294.4 1557.0h1L1295.4 1557.8h1L1296.4 1558.4h1L1297.4 1559.1h1L1298.4 1560.7h1L1299.4 1561.4h1L1300.4 1561.0h1L1301.4 1561.9h1L1302.4 1562.2h1L1303.4 1564.7h1L1304.4 1563.0h1L1305.4 1562.6h1L1306.4 1561.5h1L1307.4 1562.5h1L1308.4 1562.1h1L1309.4 1562.9h1L1310.4 1565.2h1L1311.4 1568.5h1L1312.4 1570.4h1L1313.4 1570.3h1L1314.4 1570.9h1L1315.4 1571.6h1L1316.4 1572.2h1L1317.4 1574.2h1L1318.4 1575.6h1L1319.4 1577.3h1L1320.4 1580.5h1L1321.4 1579.3h1L1322.4 1580.4h1L1323.4 1580.4h1L1324.4 1581.1h1L1325.4 1581.5h1L1326.4 1582.1h1L1327.4 1581.2h1L1328.4 1582.6h1L1329.4 1583.7h1L1330.4 1583.7h1L1331.4 1583.5h1L1332.4 1581.3h1L1333.4 1582.2h1L1334.4 1582.3h1L1335.4 1582.1h1L1336.4 1583.4h1L1337.4 1581.1h1L1338.4 1581.0h1L1339.4 1581.7h1L1340.4 1581.6h1L1341.4 1581.7h1L1342.4 1581.7h1L1343.4 1581.5h1L1344.4 1580.1h1L1345.4 1579.1h1L1346.4 1578.2h1L1347.4 1576.1h1L1348.4 1576.3h1L1349.4 1576.3h1L1350.4 1577.6h1L1351.4 1577.9h1L1352.4 1576.7h1L1353.4 1568.8h1L1354.4 1561.8h1L1355.4 1558.8h1L1356.4 1560.0h1L1357.4 1559.4h1L1358.4 1558.9h1L1359.4 1558.0h1L1360.4 1558.2h1L1361.4 1558.4h1L1362.4 1557.2h1L1363.4 1557.6h1L1364.4 1557.8h1L1365.4 1560.0h1L1366.4 1560.4h1L1367.4 1560.1h1L1368.4 1558.9h1L1369.4 1558.0h1L1370.4 1558.0h1L1371.4 1557.9h1L1372.4 1557.3h1L1373.4 1557.5h1L1374.4 1558.2h1L1375.4 1559.0h1L1376.4 1559.8h1L1377.4 1560.2h1L1378.4 1560.5h1L1379.4 1560.6h1L1380.4 1559.6h1L1381.4 1561.6h1L1382.4 1562.0h1L1383.4 1562.4h1L1384.4 1562.3h1L1385.4 1561.6h1L1386.4 1562.2h1L1387.4 1561.1h1L1388.4 1559.9h1L1389.4 1561.2h1L1390.4 1562.5h1L1391.4 1564.3h1L1392.4 1567.3h1L1393.4 1567.4h1L1394.4 1565.6h1L1395.4 1566.3h1L1396.4 1567.4h1L1397.4 1567.3h1L1398.4 1567.4h1L1399.4 1578.6h1L1400.4 1583.1h1L1401.4 1583.0h1L1402.4 1583.8h1L1403.4 1583.2h1L1404.4 1583.6h1L1405.4 1582.6h1L1406.4 1583.0h1L1407.4 1582.7h1L1408.4 1582.6h1L1409.4 1582.6h1L1410.4 1582.6h1L1411.4 1582.3h1L1412.4 1582.6h1L1413.4 1582.6h1L1414.4 1583.3h1L1415.4 1584.3h1L1416.4 1584.9h1L1417.4 1584.9h1L1418.4 1585.1h1L1419.4 1584.3h1L1420.4 1583.7h1L1421.4 1581.8h1L1422.4 1580.5h1L1423.4 1579.9h1L1424.4 1578.3h1L1425.4 1572.9h1L1426.4 1567.1h1L1427.4 1563.1h1L1428.4 1559.7h1L1429.4 1556.5h1L1430.4 1553.2h1L1431.4 1553.7h1L1432.4 1555.3h1L1433.4 1556.1h1L1434.4 1559.8h1L1435.4 1560.3h1L1436.4 1557.7h1L1437.4 1556.5h1L1438.4 1553.9h1L1439.4 1554.0h1L1440.4 1557.0h1L1441.4 1555.5h1L1442.4 1554.7h1L1443.4 1554.9h1L1444.4 1554.4h1L1445.4 1554.6h1L1446.4 1554.4h1L1447.4 1554.4h1L1448.4 1555.7h1L1449.4 1556.4h1L1450.4 1557.4h1L1451.4 1555.9h1L1452.4 1556.5h1L1453.4 1556.8h1L1454.4 1557.5h1L1455.4 1558.0h1L1456.4 1559.9h1L1457.4 1560.2h1L1458.4 1560.5h1L1459.4 1558.6h1L1460.4 1561.9h1L1461.4 1562.9h1L1462.4 1561.3h1L1463.4 1563.3h1L1464.4 1565.1h1L1465.4 1567.5h1L1466.4 1571.4h1L1467.4 1575.1h1L1468.4 1577.3h1L1469.4 1579.4h1L1470.4 1581.0h1L1471.4 1583.7h1L1472.4 1593.4h1L1473.4 1603.1h1L1474.4 1612.6h1L1475.4 1612.9h1L1476.4 1612.8h1L1477.4 1613.1h1L1478.4 1613.4h1L1479.4 1613.4h1L1480.4 1613.8h1L1481.4 1614.0h1L1482.4 1613.7h1L1483.4 1614.3h1L1484.4 1614.5h1L1485.4 1614.8h1L1486.4 1615.0h1L1487.4 1615.3h1L1488.4 1615.5h1L1489.4 1615.7h1L1490.4 1615.8h1L1491.4 1616.0h1L1492.4 1616.1h1L1493.4 1616.2h1L1494.4 1616.3h1L1495.4 1616.5h1L1496.4 1616.6h1L1497.4 1616.7h1L1498.4 1616.7h1L1499.4 1616.7h1L1500.4 1616.7h1L1501.4 1616.7h1L1502.4 1616.7h1L1503.4 1616.7h1L1504.4 1616.7h1L1505.4 1616.7h1L1506.4 1616.7h1L1507.4 1616.7h1L1508.4 1616.7h1L1509.4 1616.7h1L1510.4 1616.7h1L1511.4 1616.7h1L1512.4 1616.7h1L1513.4 1616.7h1L1514.4 1616.7h1L1515.4 1616.7h1L1516.4 1616.7h1L1517.4 1616.7h1L1518.4 1616.7h1L1519.4 1616.7h1L1520.4 1616.7h1L1521.4 1616.7h1L1522.4 1616.7h1L1523.4 1616.7h1L1524.4 1616.7h1L1525.4 1616.7h1L1526.4 1616.4h1L1527.4 1616.1h1L1528.4 1615.8h1L1529.4 1615.5h1L1530.4 1615.1h1L1531.4 1614.8h1L1532.4 1614.5h1L1533.4 1614.2h1L1534.4 1613.9h1L1535.4 1613.6h1L1536.4 1612.7h1L1537.4 1612.4h1L1538.4 1612.1h1L1539.4 1611.7h1L1540.4 1611.5h1L1541.4 1611.5h1L1542.4 1611.6h1L1543.4 1611.2h1L1544.4 1610.7h1L1545.4 1610.9h1L1546.4 1610.4h1L1547.4 1609.9h1L1548.4 1609.6h1L1549.4 1609.4h1L1550.4 1609.1h1L1551.4 1608.9h1L1552.4 1608.7h1L1553.4 1608.3h1L1554.4 1608.1h1L1555.4 1608.1h1L1556.4 1607.8h1L1557.4 1607.8h1L1558.4 1607.6h1L1559.4 1606.9h1L1560.4 1606.8h1L1561.4 1606.8h1L1562.4 1606.6h1L1563.4 1606.7h1L1564.4 1606.4h1L1565.4 1606.3h1L1566.4 1606.3h1L1567.4 1605.8h1L1568.4 1605.6h1L1569.4 1605.2h1L1570.4 1604.6h1L1571.4 1604.4h1L1572.4 1604.4h1L1573.4 1605.2h1L1574.4 1605.2h1L1575.4 1605.0h1L1576.4 1604.9h1L1577.4 1604.8h1L1578.4 1605.1h1L1579.4 1604.9h1L1580.4 1605.0h1L1581.4 1604.9h1L1582.4 1605.1h1L1583.4 1605.6h1L1584.4 1605.9h1L1585.4 1605.8h1L1586.4 1606.4h1L1587.4 1606.7h1L1588.4 1606.4h1L1589.4 1606.8h1L1590.4 1606.9h1L1591.4 1607.5h1L1592.4 1606.7h1L1593.4 1607.4h1L1594.4 1607.1h1L1595.4 1607.2h1L1596.4 1606.9h1L1597.4 1617.1h1L1598.4 1617.1h1L1599.4 1617.1h1L1600.4 1617.1h1L1601.4 1617.1h1L1602.4 1617.1h1L1603.4 1617.1h1L1604.4 1617.1h1L1605.4 1617.1h1L1606.4 1617.1h1L1607.4 1617.1h1L1608.4 1617.1h1L1609.4 1617.1h1L1610.4 1617.1h1L1611.4 1617.1h1L1612.4 1617.1h1L1613.4 1617.1h1L1614.4 1617.1h1L1615.4 1617.1h1L1616.4 1607.3h1L1617.4 1606.4h1L1618.4 1605.9h1L1619.4 1606.0h1L1620.4 1605.6h1L1621.4 1605.6h1L1622.4 1605.3h1L1623.4 1605.4h1L1624.4 1605.0h1L1625.4 1605.2h1L1626.4 1606.0h1L1627.4 1606.2h1L1628.4 1606.4h1L1629.4 1606.2h1L1630.4 1606.5h1L1631.4 1607.0h1L1632.4 1607.2h1L1633.4 1606.8h1L1634.4 1606.8h1L1635.4 1607.0h1L1636.4 1607.0h1L1637.4 1606.5h1L1638.4 1606.0h1L1639.4 1605.7h1L1640.4 1605.5h1L1641.4 1605.3h1L1642.4 1605.3h1L1643.4 1605.1h1L1644.4 1605.1h1L1645.4 1605.2h1L1646.4 1605.0h1L1647.4 1604.6h1L1648.4 1604.4h1L1649.4 1604.1h1L1650.4 1604.8h1L1651.4 1603.8h1L1652.4 1604.1h1L1653.4 1604.4h1L1654.4 1604.3h1L1655.4 1604.3h1L1656.4 1604.1h1L1657.4 1604.1h1L1658.4 1603.4h1L1659.4 1603.6h1L1660.4 1603.2h1L1661.4 1602.8h1L1662.4 1603.3h1L1663.4 1603.3h1L1664.4 1603.4h1L1665.4 1604.2h1L1666.4 1604.9h1L1667.4 1605.5h1L1668.4 1606.0h1L1669.4 1605.9h1L1670.4 1605.5h1L1671.4 1605.2h1L1672.4 1605.4h1L1673.4 1605.2h1L1674.4 1605.1h1L1675.4 1604.6h1L1676.4 1604.6h1L1677.4 1605.2h1L1678.4 1605.1h1L1679.4 1604.9h1L1680.4 1604.7h1L1681.4 1605.1h1L1682.4 1604.8h1L1683.4 1604.9h1L1684.4 1605.6h1L1685.4 1605.5h1L1686.4 1605.3h1L1687.4 1605.2h1L1688.4 1605.1h1L1689.4 1605.0h1L1690.4 1605.2h1L1691.4 1605.2h1L1692.4 1604.9h1L1693.4 1605.0h1L1694.4 1604.9h1L1695.4 1604.8h1L1696.4 1605.2h1L1697.4 1605.2h1L1698.4 1604.5h1L1699.4 1604.7h1L1700.4 1604.8h1L1701.4 1605.3h1L1702.4 1605.9h1L1703.4 1606.0h1L1704.4 1605.7h1L1705.4 1605.6h1L1706.4 1605.8h1L1707.4 1605.8h1L1708.4 1605.4h1L1709.4 1605.9h1L1710.4 1605.9h1L1711.4 1605.7h1L1712.4 1606.1h1L1713.4 1606.2h1L1714.4 1606.3h1L1715.4 1606.3h1L1716.4 1606.5h1L1717.4 1607.0h1L1718.4 1606.5h1L1719.4 1606.6h1L1720.4 1606.4h1L1721.4 1606.2h1L1722.4 1606.5h1L1723.4 1606.2h1L1724.4 1606.0h1L1725.4 1604.7h1L1726.4 1604.4h1L1727.4 1604.5h1L1728.4 1604.0h1L1729.4 1604.6h1L1730.4 1604.5h1L1731.4 1604.3h1L1732.4 1603.9h1L1733.4 1603.7h1L1734.4 1603.8h1L1735.4 1603.8h1L1736.4 1604.0h1L1737.4 1603.7h1L1738.4 1603.0h1L1739.4 1603.1h1L1740.4 1604.0h1L1741.4 1603.9h1L1742.4 1603.8h1L1743.4 1603.5h1L1744.4 1603.1h1L1745.4 1603.0h1L1746.4 1602.4h1L1747.4 1602.6h1L1748.4 1601.4h1L1749.4 1601.4h1L1750.4 1601.0h1L1751.4 1602.1h1L1752.4 1602.0h1L1753.4 1602.1h1L1754.4 1602.0h1L1755.4 1602.0h1L1756.4 1601.9h1L1757.4 1602.4h1L1758.4 1602.4h1L1759.4 1602.1h1L1760.4 1602.3h1L1761.4 1602.5h1L1762.4 1602.5h1L1763.4 1602.6h1L1764.4 1602.4h1L1765.4 1603.5h1L1766.4 1603.0h1L1767.4 1603.2h1L1768.4 1603.0h1L1769.4 1603.2h1L1770.4 1602.7h1L1771.4 1603.5h1L1772.4 1603.7h1L1773.4 1604.1h1L1774.4 1604.4h1L1775.4 1603.4h1L1776.4 1603.5h1L1777.4 1604.7h1L1778.4 1604.6h1L1779.4 1605.1h1L1780.4 1604.9h1L1781.4 1605.5h1L1782.4 1605.6h1L1783.4 1605.5h1L1784.4 1605.7h1L1785.4 1606.6h1L1786.4 1607.2h1L1787.4 1607.5h1L1788.4 1608.1h1L1789.4 1608.4h1L1790.4 1609.0h1L1791.4 1609.8h1L1792.4 1610.0h1L1793.4 1610.6h1L1794.4 1611.3h1L1795.4 1611.6h1L1796.4 1611.8h1L1797.4 1611.4h1L1798.4 1612.3h1L1799.4 1612.5h1L1800.4 1612.0h1L1801.4 1612.0h1L1802.4 1612.4h1L1803.4 1612.5h1L1804.4 1612.6h1L1805.4 1612.6h1L1806.4 1613.0h1L1807.4 1612.8h1L1808.4 1612.4h1L1809.4 1613.0h1L1810.4 1612.5h1L1811.4 1612.4h1L1812.4 1612.3h1L1813.4 1612.3h1L1814.4 1612.3h1L1815.4 1612.0h1L1816.4 1612.0h1L1817.4 1612.1h1L1818.4 1612.0h1L1819.4 1611.8h1L1820.4 1611.8h1L1821.4 1611.8h1L1822.4 1611.2h1L1823.4 1611.2h1L1824.4 1611.1h1L1825.4 1611.9h1L1826.4 1611.9h1L1827.4 1611.5h1L1828.4 1611.3h1L1829.4 1611.4h1L1830.4 1611.7h1L1831.4 1611.6h1L1832.4 1610.8h1L1833.4 1610.9h1L1834.4 1610.9h1L1835.4 1610.7h1L1836.4 1610.7h1L1837.4 1610.5h1L1838.4 1610.5h1L1839.4 1610.5h1L1840.4 1610.8h1L1841.4 1610.6h1L1842.4 1610.6h1L1843.4 1609.9h1L1844.4 1609.7h1L1845.4 1610.2h1L1846.4 1609.7h1L1847.4 1610.2h1L1848.4 1609.9h1L1849.4 1609.4h1L1850.4 1609.3h1L1851.4 1609.3h1L1852.4 1609.9h1L1853.4 1610.0h1L1854.4 1610.1h1L1855.4 1610.3h1L1856.4 1610.4h1L1857.4 1609.9h1L1858.4 1610.9h1L1859.4 1610.6h1L1860.4 1610.9h1L1861.4 1610.9h1L1862.4 1611.3h1L1863.4 1611.8h1L1864.4 1611.9h1L1865.4 1612.1h1L1866.4 1612.4h1L1867.4 1612.4h1L1868.4 1612.7h1L1869.4 1613.1h1L1870.4 1613.1h1L1871.4 1613.2h1L1872.4 1613.2h1L1873.4 1612.9h1L1874.4 1612.8h1L1875.4 1612.9h1L1876.4 1614.0h1L1877.4 1613.4h1L1878.4 1613.4h1L1879.4 1613.3h1L1880.4 1613.3h1L1881.4 1613.4h1L1882.4 1613.1h1L1883.4 1613.6h1L1884.4 1613.5h1L1885.4 1613.4h1L1886.4 1613.5h1L1887.4 1613.8h1L1888.4 1613.9h1L1889.4 1613.3h1L1890.4 1613.6h1L1891.4 1613.6h1L1892.4 1613.5h1L1893.4 1613.5h1L1894.4 1613.4h1L1895.4 1613.3h1L1896.4 1613.4h1L1897.4 1613.2h1L1898.4 1613.1h1L1899.4 1613.1h1L1900.4 1612.8h1L1901.4 1612.7h1L1902.4 1612.7h1L1903.4 1612.7h1L1904.4 1611.6h1L1905.4 1611.2h1L1906.4 1611.4h1L1907.4 1611.2h1L1908.4 1610.2h1L1909.4 1610.1h1L1910.4 1610.8h1L1911.4 1610.7h1L1912.4 1610.4h1L1913.4 1610.0h1L1914.4 1610.7h1L1915.4 1610.7h1L1916.4 1610.0h1L1917.4 1609.7h1L1918.4 1609.3h1L1919.4 1609.0h1L1920.4 1608.7h1L1921.4 1608.2h1L1922.4 1608.5h1L1923.4 1608.2h1L1924.4 1607.7h1L1925.4 1607.5h1L1926.4 1607.2h1L1927.4 1606.3h1L1928.4 1605.7h1L1929.4 1604.6h1L1930.4 1603.1h1L1931.4 1602.0h1L1932.4 1600.6h1L1933.4 1600.7h1L1934.4 1601.4h1L1935.4 1601.2h1L1936.4 1601.1h1L1937.4 1600.0h1L1938.4 1599.8h1L1939.4 1600.2h1L1940.4 1599.5h1L1941.4 1599.3h1L1942.4 1599.1h1L1943.4 1599.0h1L1944.4 1598.9h1L1945.4 1599.4h1L1946.4 1599.4h1L1947.4 1599.5h1L1948.4 1599.6h1L1949.4 1599.4h1L1950.4 1599.3h1L1951.4 1600.0h1L1952.4 1600.3h1L1953.4 1598.9h1L1954.4 1598.7h1L1955.4 1599.5h1L1956.4 1599.5h1L1957.4 1599.6h1L1958.4 1599.6h1L1959.4 1599.9h1L1960.4 1599.8h1L1961.4 1599.8h1L1962.4 1599.9h1L1963.4 1599.3h1L1964.4 1599.0h1L1965.4 1598.6h1L1966.4 1598.8h1L1967.4 1598.2h1L1968.4 1597.6h1L1969.4 1597.3h1L1970.4 1596.6h1L1971.4 1596.8h1L1972.4 1597.0h1L1973.4 1597.0h1L1974.4 1597.3h1L1975.4 1597.8h1L1976.4 1598.1h1L1977.4 1598.7h1L1978.4 1598.7h1L1979.4 1598.4h1L1980.4 1597.4h1L1981.4 1599.2h1L1982.4 1599.0h1L1983.4 1598.8h1L1984.4 1597.7h1L1985.4 1597.1h1L1986.4 1596.7h1L1987.4 1596.2h1L1988.4 1594.4h1L1989.4 1594.3h1L1990.4 1595.0h1L1991.4 1594.9h1L1992.4 1594.8h1L1993.4 1594.8h1L1994.4 1594.8h1L1995.4 1594.1h1L1996.4 1593.6h1L1997.4 1593.1h1L1998.4 1592.5h1L1999.4 1591.5h1L2000.4 1590.5h1L2001.4 1617.1Z" fill="#D3D3D3"/>
<line x1="920.60" y1="1514.78" x2="920.60" y2="1617.72" stroke="#000" stroke-width="1.25" />
<line x1="912.90" y1="1515.40" x2="920.60" y2="1515.40" stroke="#000" stroke-width="1.25" />
<line x1="912.90" y1="1538.40" x2="920.60" y2="1538.40" stroke="#000" stroke-width="1.25" />
<line x1="912.90" y1="1578.20" x2="920.60" y2="1578.20" stroke="#000" stroke-width="1.25" />
<line x1="912.90" y1="1617.10" x2="920.60" y2="1617.10" stroke="#000" stroke-width="1.25" />
<text transform="translate(855.64,1542.80) scale(1.0331,1.0000)" font-family='"DejaVu Sans", "Liberation Sans", sans-serif' font-size="20.80" fill="#000" >1000</text>
<text transform="translate(868.61,1582.80) scale(1.0513,1.0000)" font-family='"DejaVu Sans", "Liberation Sans", sans-serif' font-size="20.80" fill="#000" >500</text>
<text transform="translate(896.12,1621.80) scale(1.0781,1.0000)" font-family='"DejaVu Sans", "Liberation Sans", sans-serif' font-size="20.80" fill="#000" >0</text>
<text transform="translate(846.90,1602.17) rotate(-90) scale(0.9576,1)" font-family='"DejaVu Sans", "Liberation Sans", sans-serif' font-size="22.20" fill="#000">depth</text>
<line x1="921.50" y1="1541.80" x2="2000.80" y2="1541.80" stroke="#DEDEFD" stroke-width="0.9" />
<path d="M1036.20 1600.60A11.35 66.40 0 0 1 1058.90 1600.60" fill="none" stroke="#D9CCF1" stroke-width="4.0" stroke-opacity="1.0"/>
<path d="M1103.40 1600.60A20.55 67.70 0 0 1 1144.50 1600.60" fill="none" stroke="#E4DEF9" stroke-width="0.9" stroke-opacity="1.0"/>
<path d="M1296.70 1600.60A11.85 67.70 0 0 1 1320.40 1600.60" fill="none" stroke="#FFD0D0" stroke-width="1.0" stroke-opacity="1.0"/>
<path d="M1324.50 1600.60A14.90 67.70 0 0 1 1354.30 1600.60" fill="none" stroke="#FFD0D0" stroke-width="1.0" stroke-opacity="1.0"/>
<path d="M1330.60 1600.60A8.25 67.70 0 0 1 1347.10 1600.60" fill="none" stroke="#D0D0FF" stroke-width="1.0" stroke-opacity="1.0"/>
<path d="M1332.70 1600.60A14.35 67.70 0 0 1 1361.40 1600.60" fill="none" stroke="#D0D0FF" stroke-width="1.0" stroke-opacity="1.0"/>
<path d="M1334.70 1600.60A6.20 67.70 0 0 1 1347.10 1600.60" fill="none" stroke="#D0D0FF" stroke-width="1.0" stroke-opacity="1.0"/>
<path d="M1336.80 1600.60A26.50 67.70 0 0 1 1389.80 1600.60" fill="none" stroke="#D0D0FF" stroke-width="1.0" stroke-opacity="1.0"/>
<path d="M1499.20 1600.60A14.40 67.60 0 0 1 1528.00 1600.60" fill="none" stroke="#D4CCF5" stroke-width="1.9" stroke-opacity="1.0"/>
<path d="M1596.80 1600.60A9.65 65.80 0 0 1 1616.10 1600.60" fill="none" stroke="#D9CCF1" stroke-width="5.5" stroke-opacity="1.0"/>
<line x1="916.10" y1="1648.60" x2="2026.50" y2="1648.60" stroke="#000" stroke-width="1.2" />
<line x1="916.00" y1="1643.00" x2="916.00" y2="1654.00" stroke="#555" stroke-width="1.6" />
<line x1="2026.50" y1="1643.20" x2="2026.50" y2="1654.00" stroke="#111" stroke-width="1.4" />
<text transform="translate(1433.60,1670.60) scale(1.0752,1.0000)" font-family='"DejaVu Sans", "Liberation Sans", sans-serif' font-size="20.80" fill="#000" >3.6Kbp</text>
</g>
</svg>
</body></html>
